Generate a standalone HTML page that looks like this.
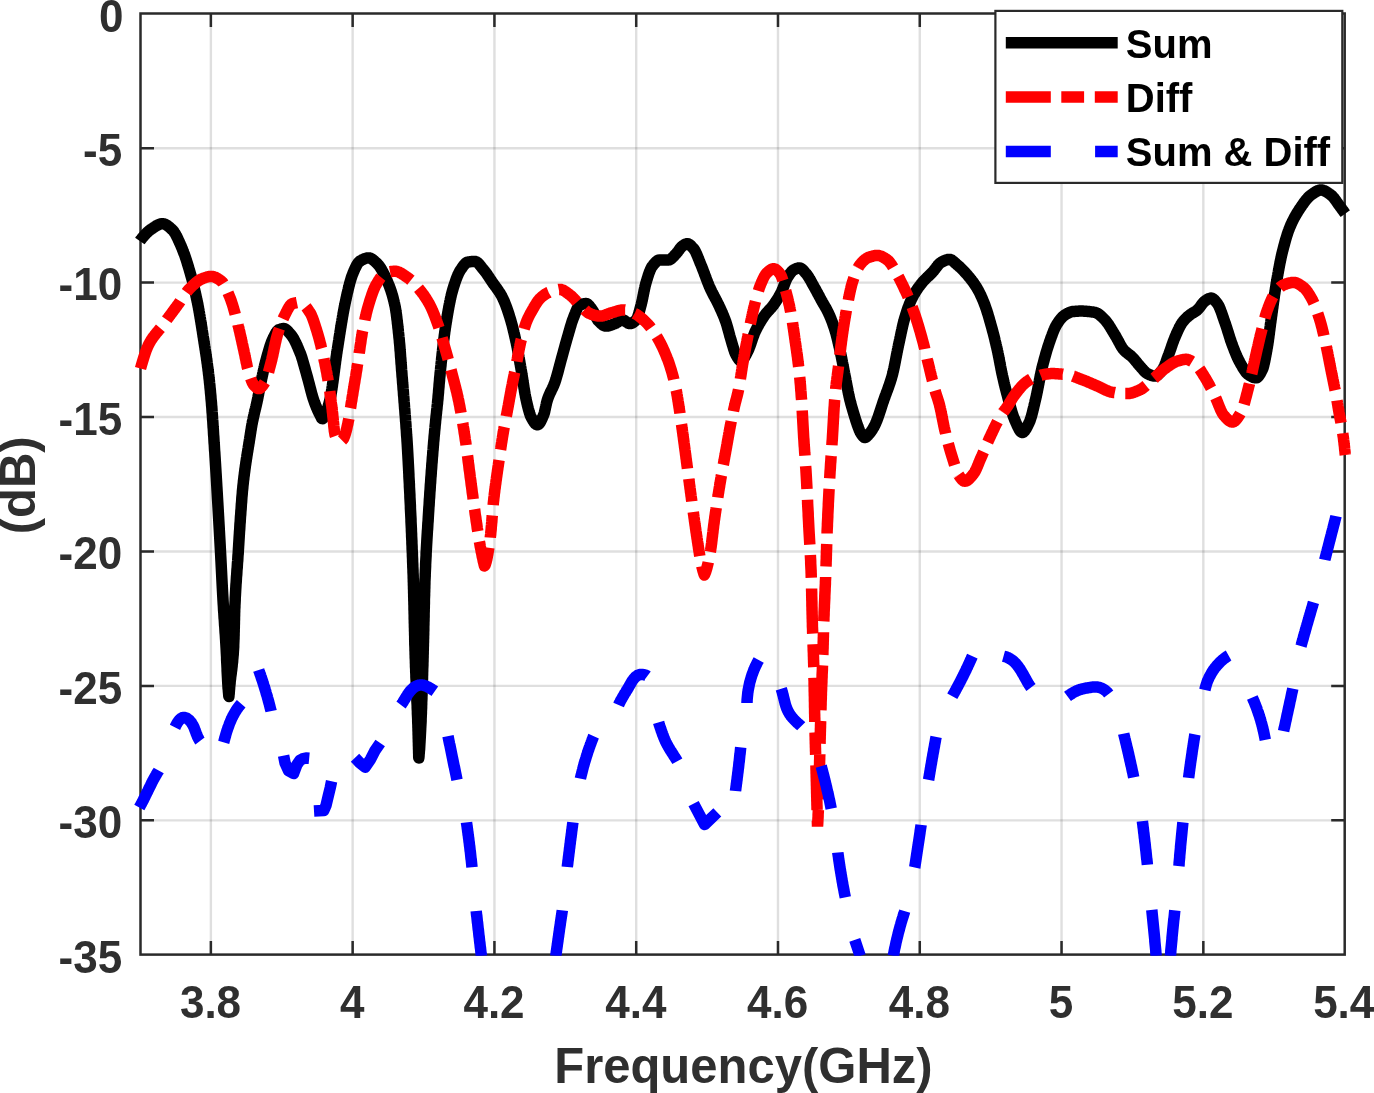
<!DOCTYPE html>
<html lang="en"><head><meta charset="utf-8"><title>Return loss plot</title>
<style>html,body{margin:0;padding:0;background:#fff}body{width:1374px;height:1093px;overflow:hidden}svg{display:block}text{font-family:"Liberation Sans",sans-serif;font-weight:bold}</style></head><body>
<svg width="1374" height="1093" viewBox="0 0 1374 1093">
<rect width="1374" height="1093" fill="#fff"/>
<defs><clipPath id="ax"><rect x="132.5" y="12.2" width="1220.2" height="943.6"/></clipPath><clipPath id="redclip"><rect x="130" y="0" width="1225" height="826.8"/></clipPath></defs>
<path d="M210.87 13.5 V954.6 M352.65 13.5 V954.6 M494.43 13.5 V954.6 M636.21 13.5 V954.6 M777.99 13.5 V954.6 M919.77 13.5 V954.6 M1061.55 13.5 V954.6 M1203.33 13.5 V954.6" stroke="#262626" stroke-opacity="0.15" stroke-width="2.4" fill="none"/>
<path d="M140.5 148.20 H1344.7 M140.5 282.62 H1344.7 M140.5 417.05 H1344.7 M140.5 551.48 H1344.7 M140.5 685.90 H1344.7 M140.5 820.33 H1344.7" stroke="#262626" stroke-opacity="0.15" stroke-width="2.4" fill="none"/>
<rect x="140.50" y="13.50" width="1204.20" height="941.10" fill="none" stroke="#2a2a2a" stroke-width="2.5"/>
<path d="M210.87 954.6 v-13.5 M210.87 13.5 v13.5 M352.65 954.6 v-13.5 M352.65 13.5 v13.5 M494.43 954.6 v-13.5 M494.43 13.5 v13.5 M636.21 954.6 v-13.5 M636.21 13.5 v13.5 M777.99 954.6 v-13.5 M777.99 13.5 v13.5 M919.77 954.6 v-13.5 M919.77 13.5 v13.5 M1061.55 954.6 v-13.5 M1061.55 13.5 v13.5 M1203.33 954.6 v-13.5 M1203.33 13.5 v13.5 M140.5 148.20 h13.5 M1344.7 148.20 h-13.5 M140.5 282.62 h13.5 M1344.7 282.62 h-13.5 M140.5 417.05 h13.5 M1344.7 417.05 h-13.5 M140.5 551.48 h13.5 M1344.7 551.48 h-13.5 M140.5 685.90 h13.5 M1344.7 685.90 h-13.5 M140.5 820.33 h13.5 M1344.7 820.33 h-13.5" stroke="#2a2a2a" stroke-width="2.5" fill="none"/>
<g clip-path="url(#ax)" fill="none" stroke-linejoin="round">
<path d="M139.8 241.0 L140.3 240.3 L140.8 239.7 L141.3 239.1 L141.8 238.4 L142.3 237.8 L142.8 237.2 L143.3 236.6 L143.8 236.1 L144.3 235.5 L144.8 234.9 L145.3 234.4 L145.8 233.9 L146.3 233.3 L146.8 232.8 L147.3 232.4 L147.8 231.9 L148.3 231.4 L148.8 231.0 L149.3 230.6 L149.8 230.2 L150.3 229.8 L150.8 229.5 L151.3 229.1 L151.8 228.8 L152.3 228.5 L152.8 228.1 L153.3 227.8 L153.8 227.4 L154.3 227.1 L154.8 226.8 L155.3 226.4 L155.8 226.1 L156.3 225.8 L156.8 225.5 L157.3 225.3 L157.8 225.0 L158.3 224.8 L158.8 224.5 L159.3 224.3 L159.8 224.2 L160.3 224.0 L160.8 223.9 L161.3 223.8 L161.8 223.7 L162.3 223.7 L162.8 223.7 L163.3 223.8 L163.8 223.9 L164.3 224.0 L164.8 224.2 L165.3 224.4 L165.8 224.6 L166.3 224.9 L166.8 225.2 L167.3 225.5 L167.8 225.9 L168.3 226.3 L168.8 226.7 L169.3 227.1 L169.8 227.5 L170.3 228.0 L170.8 228.4 L171.3 228.9 L171.8 229.4 L172.3 229.8 L172.8 230.3 L173.3 230.9 L173.8 231.5 L174.3 232.3 L174.8 233.0 L175.3 233.8 L175.8 234.7 L176.3 235.7 L176.8 236.6 L177.3 237.6 L177.8 238.7 L178.3 239.8 L178.8 240.9 L179.3 242.0 L179.8 243.1 L180.3 244.2 L180.8 245.4 L181.3 246.5 L181.8 247.7 L182.3 249.0 L182.8 250.2 L183.3 251.6 L183.8 252.9 L184.4 254.3 L184.9 255.8 L185.4 257.3 L185.9 258.8 L186.4 260.3 L186.9 261.9 L187.4 263.5 L187.9 265.2 L188.4 266.8 L188.9 268.5 L189.4 270.2 L189.9 271.9 L190.4 273.6 L190.9 275.4 L191.4 277.2 L191.9 279.0 L192.4 280.9 L192.9 282.8 L193.4 284.8 L193.9 286.8 L194.1 287.8 L194.4 288.8 L194.6 289.8 L194.9 290.9 L195.1 292.0 L195.4 293.0 L195.6 294.1 L195.9 295.2 L196.1 296.4 L196.4 297.5 L196.6 298.7 L196.9 299.8 L197.1 301.0 L197.4 302.2 L197.6 303.5 L197.9 304.7 L198.1 306.0 L198.4 307.3 L198.6 308.7 L198.9 310.0 L199.1 311.4 L199.4 312.9 L199.6 314.3 L199.9 315.8 L200.1 317.3 L200.4 318.8 L200.6 320.3 L200.9 321.8 L201.1 323.4 L201.4 325.0 L201.6 326.5 L201.9 328.1 L202.1 329.7 L202.4 331.3 L202.6 332.9 L202.9 334.6 L203.1 336.2 L203.4 337.8 L203.6 339.4 L203.9 341.0 L204.1 342.6 L204.4 344.2 L204.6 345.8 L204.9 347.4 L205.1 349.0 L205.4 350.6 L205.6 352.3 L205.9 353.9 L206.1 355.6 L206.4 357.3 L206.6 359.0 L206.9 360.8 L207.1 362.6 L207.4 364.4 L207.6 366.3 L207.9 368.2 L208.1 370.1 L208.4 372.1 L208.5 373.5 L208.7 374.9 L208.9 376.3 L209.0 377.8 L209.2 379.3 L209.4 380.8 L209.5 382.4 L209.7 384.0 L209.9 385.6 L210.0 387.3 L210.2 389.0 L210.4 390.8 L210.5 392.6 L210.7 394.4 L210.9 396.3 L211.0 398.2 L211.2 400.2 L211.4 402.2 L211.5 403.7 L211.6 405.3 L211.8 407.0 L211.9 408.7 L212.0 410.4 L212.1 412.1 L212.3 413.9 L212.4 415.7 L212.5 417.5 L212.6 419.4 L212.8 421.2 L212.9 423.1 L213.0 425.0 L213.1 426.9 L213.3 428.9 L213.4 430.8 L213.5 432.8 L213.6 434.7 L213.8 436.7 L213.9 438.7 L214.0 440.7 L214.1 442.7 L214.3 444.6 L214.4 446.6 L214.5 448.6 L214.6 450.5 L214.8 452.5 L214.9 454.5 L215.0 456.1 L215.1 457.7 L215.2 459.3 L215.3 460.9 L215.4 462.6 L215.5 464.2 L215.6 465.8 L215.7 467.5 L215.8 469.1 L215.9 470.8 L216.0 472.5 L216.1 474.2 L216.2 475.8 L216.3 477.5 L216.4 479.2 L216.5 480.9 L216.6 482.6 L216.7 484.3 L216.8 486.0 L216.9 487.7 L217.0 489.4 L217.1 491.2 L217.2 492.9 L217.3 494.6 L217.4 496.3 L217.5 498.1 L217.6 499.8 L217.7 501.5 L217.8 503.2 L217.9 505.0 L218.0 506.7 L218.1 508.5 L218.2 510.2 L218.3 512.0 L218.4 513.7 L218.5 515.5 L218.6 517.2 L218.7 519.0 L218.8 520.8 L218.9 522.6 L219.0 524.4 L219.1 526.1 L219.2 527.9 L219.3 529.7 L219.4 531.5 L219.5 533.3 L219.6 535.2 L219.7 537.0 L219.8 538.8 L219.9 540.6 L220.0 542.4 L220.1 544.3 L220.2 546.1 L220.3 548.0 L220.4 549.8 L220.5 551.7 L220.6 553.6 L220.7 555.5 L220.8 557.4 L220.9 559.4 L221.0 561.3 L221.1 563.3 L221.2 565.3 L221.3 567.3 L221.4 569.3 L221.5 571.3 L221.6 573.3 L221.7 575.3 L221.8 577.3 L221.9 579.2 L222.0 581.2 L222.1 583.2 L222.2 585.1 L222.3 587.1 L222.4 589.0 L222.5 590.9 L222.6 592.7 L222.7 594.6 L222.8 596.4 L222.9 598.1 L223.0 599.9 L223.1 601.6 L223.2 603.3 L223.3 604.9 L223.4 606.5 L223.5 608.5 L223.6 610.4 L223.8 612.3 L223.9 614.2 L224.0 616.0 L224.1 617.9 L224.3 619.7 L224.4 621.5 L224.5 623.3 L224.6 625.1 L224.8 627.0 L224.9 628.8 L225.0 630.6 L225.1 632.5 L225.3 634.4 L225.4 636.3 L225.5 637.9 L225.6 639.5 L225.7 641.1 L225.8 642.8 L225.9 644.5 L226.0 646.2 L226.1 647.9 L226.2 649.8 L226.3 651.7 L226.4 653.8 L226.5 655.5 L226.6 657.3 L226.6 659.2 L226.7 661.1 L226.8 662.9 L226.9 664.8 L227.0 666.7 L227.1 668.6 L227.1 670.5 L227.2 672.3 L227.3 674.1 L227.4 675.8 L227.5 677.8 L227.6 679.8 L227.7 681.6 L227.8 683.3 L227.9 684.8 L228.0 686.6 L228.1 688.3 L228.3 689.9 L228.4 691.4 L228.6 693.3 L228.7 695.0 L228.9 696.5 L229.0 695.0 L229.2 693.5 L229.3 692.0 L229.4 690.5 L229.6 688.5 L229.7 686.6 L229.9 684.8 L230.1 683.0 L230.2 681.4 L230.4 679.8 L230.6 678.4 L230.7 677.0 L230.9 675.6 L231.2 673.7 L231.4 671.7 L231.7 669.8 L231.9 667.8 L232.1 666.3 L232.2 664.8 L232.4 663.3 L232.6 661.6 L232.7 659.8 L232.9 657.8 L233.0 656.3 L233.2 654.6 L233.3 652.9 L233.4 651.0 L233.5 649.7 L233.6 648.4 L233.7 646.9 L233.7 645.0 L233.8 642.8 L233.9 640.2 L234.0 638.6 L234.0 636.9 L234.1 635.1 L234.1 633.3 L234.2 631.4 L234.2 629.5 L234.3 627.5 L234.3 625.6 L234.4 623.6 L234.4 621.7 L234.5 619.6 L234.5 617.5 L234.6 615.5 L234.6 613.6 L234.7 611.8 L234.7 610.1 L234.8 608.5 L234.9 607.0 L234.9 605.7 L235.0 603.9 L235.1 602.1 L235.2 600.3 L235.2 598.6 L235.3 596.9 L235.4 595.3 L235.5 593.4 L235.6 591.6 L235.7 589.8 L235.8 588.1 L235.9 586.4 L236.0 584.3 L236.2 582.3 L236.3 580.4 L236.4 578.5 L236.5 576.7 L236.7 574.8 L236.8 573.1 L236.9 571.3 L237.0 569.5 L237.2 567.8 L237.3 566.1 L237.4 564.4 L237.5 562.6 L237.7 560.9 L237.8 559.1 L237.9 557.3 L238.0 555.4 L238.2 553.6 L238.3 551.7 L238.4 549.7 L238.5 548.1 L238.6 546.5 L238.7 544.9 L238.8 543.2 L238.9 541.6 L239.0 540.0 L239.1 538.3 L239.2 536.7 L239.3 535.1 L239.4 533.5 L239.5 531.5 L239.7 529.5 L239.8 527.5 L239.9 525.6 L240.0 523.7 L240.2 521.8 L240.3 520.0 L240.4 518.2 L240.5 516.4 L240.7 514.6 L240.8 512.8 L240.9 511.0 L241.1 509.2 L241.2 507.4 L241.3 505.6 L241.4 503.9 L241.6 502.2 L241.7 500.5 L241.8 498.9 L241.9 497.2 L242.1 495.2 L242.3 493.2 L242.4 491.3 L242.6 489.5 L242.8 487.8 L242.9 486.2 L243.1 484.6 L243.3 483.1 L243.4 481.6 L243.6 480.1 L243.8 478.7 L243.9 477.3 L244.1 475.9 L244.3 474.6 L244.4 473.3 L244.7 471.3 L244.9 469.5 L245.2 467.6 L245.4 465.9 L245.7 464.1 L245.9 462.4 L246.2 460.7 L246.4 459.1 L246.7 457.5 L246.9 455.9 L247.2 454.3 L247.4 452.8 L247.7 451.2 L247.9 449.7 L248.2 448.1 L248.4 446.6 L248.7 445.1 L248.9 443.5 L249.2 442.0 L249.4 440.4 L249.7 438.8 L249.9 437.2 L250.2 435.6 L250.4 434.0 L250.7 432.4 L250.9 430.8 L251.2 429.2 L251.4 427.7 L251.7 426.2 L251.9 424.8 L252.2 423.4 L252.4 422.0 L252.7 420.8 L253.0 419.5 L253.2 418.3 L253.5 417.2 L253.7 416.0 L254.0 414.9 L254.2 413.8 L254.5 412.7 L254.7 411.7 L255.0 410.6 L255.2 409.6 L255.5 408.5 L255.7 407.5 L256.0 406.4 L256.2 405.4 L256.5 404.3 L256.7 403.2 L257.0 402.1 L257.2 400.9 L257.5 399.7 L257.7 398.5 L258.0 397.2 L258.2 395.9 L258.5 394.6 L258.7 393.3 L259.0 392.0 L259.2 390.7 L259.5 389.4 L259.7 388.2 L260.0 387.0 L260.2 385.8 L260.5 384.6 L260.7 383.4 L261.0 382.2 L261.2 381.0 L261.5 379.8 L261.7 378.6 L262.0 377.5 L262.2 376.3 L262.5 375.1 L262.7 374.0 L263.0 372.8 L263.2 371.7 L263.5 370.6 L263.7 369.5 L264.0 368.4 L264.2 367.3 L264.5 366.2 L264.7 365.2 L265.0 364.2 L265.5 362.2 L266.0 360.3 L266.5 358.4 L267.0 356.6 L267.5 354.7 L268.0 353.0 L268.5 351.2 L269.0 349.5 L269.5 347.9 L270.0 346.3 L270.5 344.8 L271.0 343.4 L271.5 342.0 L272.0 340.8 L272.5 339.7 L273.0 338.6 L273.5 337.6 L274.0 336.5 L274.5 335.5 L275.0 334.5 L275.5 333.6 L276.0 332.7 L276.5 332.0 L277.0 331.3 L277.5 330.7 L278.0 330.3 L278.5 329.9 L279.0 329.7 L279.5 329.5 L280.0 329.3 L280.5 329.2 L281.0 329.0 L281.5 328.9 L282.0 328.8 L282.5 328.7 L283.0 328.6 L283.5 328.6 L284.0 328.6 L284.5 328.7 L285.0 328.9 L285.5 329.2 L286.0 329.5 L286.5 329.9 L287.0 330.3 L287.5 330.8 L288.0 331.3 L288.5 331.9 L289.0 332.5 L289.5 333.0 L290.0 333.6 L290.5 334.2 L291.0 334.8 L291.5 335.4 L292.0 336.1 L292.5 336.8 L293.0 337.6 L293.5 338.4 L294.0 339.3 L294.5 340.2 L295.0 341.2 L295.5 342.2 L296.0 343.3 L296.5 344.3 L297.0 345.5 L297.5 346.6 L298.0 347.8 L298.5 349.0 L299.0 350.2 L299.5 351.4 L300.0 352.7 L300.6 354.0 L301.1 355.4 L301.6 356.9 L302.1 358.5 L302.6 360.1 L303.1 361.8 L303.6 363.6 L304.1 365.3 L304.6 367.1 L305.1 368.9 L305.6 370.7 L306.1 372.5 L306.6 374.3 L307.1 376.1 L307.6 377.9 L308.1 379.7 L308.6 381.6 L309.1 383.5 L309.6 385.4 L310.1 387.4 L310.6 389.3 L311.1 391.2 L311.6 393.1 L312.1 394.9 L312.6 396.6 L313.1 398.2 L313.6 399.7 L314.1 401.2 L314.6 402.6 L315.1 403.9 L315.6 405.2 L316.1 406.5 L316.6 407.7 L317.1 408.9 L317.6 410.1 L318.1 411.2 L318.6 412.2 L319.1 413.3 L319.6 414.2 L320.1 415.2 L320.6 416.2 L321.1 417.2 L321.6 418.1 L322.1 418.6 L322.6 418.7 L323.1 418.3 L323.6 417.7 L324.1 416.9 L324.6 415.9 L325.1 414.8 L325.6 413.8 L326.1 412.7 L326.6 411.4 L327.1 410.0 L327.6 408.4 L328.1 406.7 L328.6 404.9 L329.1 403.0 L329.4 402.0 L329.6 401.0 L329.9 400.0 L330.1 398.9 L330.4 397.7 L330.6 396.4 L330.9 395.1 L331.1 393.7 L331.4 392.2 L331.6 390.6 L331.9 389.0 L332.1 387.4 L332.4 385.7 L332.6 383.9 L332.9 382.1 L333.1 380.3 L333.4 378.5 L333.6 376.6 L333.9 374.7 L334.1 372.8 L334.4 370.9 L334.6 369.0 L334.9 367.1 L335.1 365.2 L335.4 363.3 L335.6 361.4 L335.9 359.6 L336.1 357.8 L336.4 356.0 L336.6 354.3 L336.9 352.6 L337.1 350.9 L337.4 349.3 L337.6 347.7 L337.9 346.1 L338.1 344.5 L338.4 342.9 L338.6 341.3 L338.9 339.7 L339.1 338.0 L339.4 336.4 L339.6 334.8 L339.9 333.2 L340.1 331.6 L340.4 330.1 L340.6 328.5 L340.9 326.9 L341.1 325.4 L341.4 323.8 L341.6 322.3 L341.9 320.8 L342.1 319.3 L342.4 317.8 L342.6 316.4 L342.9 314.9 L343.1 313.5 L343.4 312.1 L343.6 310.8 L343.9 309.5 L344.1 308.2 L344.4 306.9 L344.6 305.7 L344.9 304.4 L345.1 303.2 L345.4 302.1 L345.6 300.9 L345.9 299.7 L346.1 298.5 L346.4 297.3 L346.6 296.2 L346.9 295.0 L347.1 293.9 L347.4 292.7 L347.7 291.6 L347.9 290.5 L348.2 289.4 L348.4 288.4 L348.7 287.3 L348.9 286.3 L349.2 285.3 L349.7 283.3 L350.2 281.5 L350.7 279.8 L351.2 278.1 L351.7 276.6 L352.2 275.3 L352.7 274.0 L353.2 272.8 L353.7 271.5 L354.2 270.4 L354.7 269.2 L355.2 268.1 L355.7 267.1 L356.2 266.1 L356.7 265.1 L357.2 264.3 L357.7 263.5 L358.2 262.8 L358.7 262.2 L359.2 261.7 L359.7 261.3 L360.2 261.0 L360.7 260.7 L361.2 260.4 L361.7 260.1 L362.2 259.8 L362.7 259.5 L363.2 259.3 L363.7 259.1 L364.2 258.9 L364.7 258.7 L365.2 258.5 L365.7 258.3 L366.2 258.2 L366.7 258.1 L367.2 258.0 L367.7 257.9 L368.2 257.9 L368.7 257.9 L369.2 257.9 L369.7 258.0 L370.2 258.2 L370.7 258.4 L371.2 258.6 L371.7 258.9 L372.2 259.2 L372.7 259.6 L373.2 260.0 L373.7 260.4 L374.2 260.8 L374.7 261.2 L375.2 261.7 L375.7 262.2 L376.2 262.7 L376.7 263.1 L377.2 263.6 L377.7 264.1 L378.2 264.7 L378.7 265.3 L379.2 265.9 L379.7 266.6 L380.2 267.3 L380.7 268.1 L381.2 268.9 L381.7 269.8 L382.2 270.7 L382.7 271.6 L383.2 272.5 L383.7 273.5 L384.2 274.5 L384.7 275.6 L385.2 276.6 L385.7 277.7 L386.2 278.8 L386.7 279.9 L387.2 281.0 L387.7 282.2 L388.2 283.4 L388.7 284.6 L389.2 285.8 L389.7 287.1 L390.2 288.5 L390.7 289.9 L391.2 291.4 L391.7 293.0 L392.2 294.6 L392.7 296.4 L393.2 298.3 L393.7 300.3 L394.0 301.3 L394.2 302.4 L394.5 303.5 L394.7 304.7 L395.0 305.9 L395.3 307.2 L395.5 308.6 L395.8 310.2 L396.0 311.8 L396.3 313.6 L396.5 315.4 L396.8 317.4 L396.9 318.7 L397.1 320.0 L397.3 321.4 L397.4 322.9 L397.6 324.3 L397.8 325.8 L397.9 327.3 L398.1 328.8 L398.3 330.3 L398.4 331.9 L398.6 333.5 L398.8 335.1 L398.9 336.7 L399.1 338.3 L399.3 340.0 L399.4 341.8 L399.6 343.7 L399.8 345.7 L399.9 347.2 L400.0 348.7 L400.1 350.3 L400.3 351.9 L400.4 353.5 L400.5 355.2 L400.6 356.8 L400.8 358.5 L400.9 360.2 L401.0 361.8 L401.1 363.5 L401.3 365.2 L401.4 366.9 L401.5 368.5 L401.6 370.2 L401.8 371.8 L401.9 373.4 L402.0 375.0 L402.1 376.6 L402.3 378.1 L402.4 379.7 L402.5 381.2 L402.6 382.8 L402.8 384.4 L402.9 385.9 L403.0 387.5 L403.1 389.1 L403.3 390.7 L403.4 392.2 L403.5 393.8 L403.6 395.4 L403.8 397.0 L403.9 398.6 L404.0 400.2 L404.1 401.9 L404.3 403.5 L404.4 405.1 L404.5 406.6 L404.6 408.2 L404.8 409.8 L404.9 411.4 L405.0 413.0 L405.1 414.6 L405.3 416.2 L405.4 417.8 L405.5 419.4 L405.6 421.1 L405.8 422.8 L405.9 424.4 L406.0 426.2 L406.1 427.9 L406.3 429.7 L406.4 431.5 L406.5 433.3 L406.6 435.2 L406.8 437.1 L406.9 438.7 L407.0 440.3 L407.1 441.9 L407.2 443.5 L407.3 445.2 L407.4 446.9 L407.5 448.6 L407.6 450.4 L407.7 452.1 L407.8 453.9 L407.9 455.7 L408.0 457.6 L408.1 459.4 L408.2 461.3 L408.3 463.2 L408.4 465.1 L408.5 467.0 L408.6 468.9 L408.7 470.9 L408.8 472.9 L408.9 474.5 L408.9 476.2 L409.0 477.8 L409.1 479.5 L409.2 481.2 L409.3 482.9 L409.4 484.6 L409.4 486.3 L409.5 488.0 L409.6 489.8 L409.7 491.5 L409.8 493.3 L409.9 495.0 L409.9 496.8 L410.0 498.6 L410.1 500.4 L410.2 502.3 L410.3 504.1 L410.4 506.0 L410.4 507.9 L410.5 509.7 L410.6 511.6 L410.7 513.5 L410.8 515.5 L410.9 517.4 L411.0 519.4 L411.0 521.3 L411.1 523.3 L411.2 525.3 L411.3 527.3 L411.4 529.0 L411.4 530.7 L411.5 532.5 L411.6 534.2 L411.6 536.0 L411.7 537.7 L411.8 539.5 L411.9 541.3 L411.9 543.1 L412.0 544.9 L412.1 546.7 L412.1 548.5 L412.2 550.3 L412.3 552.1 L412.4 553.9 L412.4 555.7 L412.5 557.5 L412.6 559.4 L412.6 561.2 L412.7 563.1 L412.8 565.0 L412.8 566.7 L412.9 568.4 L413.0 570.2 L413.0 572.0 L413.1 573.8 L413.2 575.7 L413.2 577.6 L413.3 579.6 L413.3 581.3 L413.4 583.0 L413.4 584.7 L413.5 586.5 L413.5 588.4 L413.6 590.3 L413.6 592.3 L413.7 594.3 L413.7 596.4 L413.8 598.5 L413.8 600.2 L413.9 602.0 L413.9 603.8 L414.0 605.6 L414.0 607.5 L414.0 609.3 L414.1 611.2 L414.1 613.0 L414.2 614.9 L414.2 616.8 L414.2 618.6 L414.3 620.5 L414.3 622.5 L414.4 624.5 L414.4 626.6 L414.5 628.5 L414.5 630.5 L414.6 632.5 L414.6 634.4 L414.7 636.3 L414.7 638.2 L414.7 640.0 L414.8 641.9 L414.8 644.0 L414.9 646.1 L415.0 648.2 L415.0 650.1 L415.1 652.0 L415.1 653.8 L415.2 655.6 L415.2 657.3 L415.3 659.0 L415.4 660.9 L415.4 662.7 L415.5 664.5 L415.5 666.3 L415.6 668.0 L415.7 669.7 L415.7 671.4 L415.8 673.0 L415.9 674.9 L415.9 676.7 L416.0 678.5 L416.1 680.3 L416.2 682.0 L416.2 683.7 L416.3 685.5 L416.4 687.4 L416.5 689.4 L416.5 691.4 L416.6 693.4 L416.7 695.3 L416.8 697.3 L416.9 699.0 L416.9 700.7 L417.0 702.5 L417.1 704.2 L417.2 706.0 L417.2 707.8 L417.3 709.6 L417.4 711.5 L417.4 713.4 L417.5 715.3 L417.6 717.3 L417.7 719.3 L417.7 721.3 L417.8 723.4 L417.9 725.1 L417.9 726.8 L418.0 728.5 L418.0 730.3 L418.1 732.1 L418.1 734.0 L418.2 735.9 L418.2 737.8 L418.3 739.7 L418.3 741.5 L418.4 743.3 L418.4 745.1 L418.5 746.9 L418.5 748.7 L418.6 750.6 L418.6 752.4 L418.7 754.3 L418.7 756.1 L418.8 758.0 L419.0 756.4 L419.1 754.5 L419.3 752.5 L419.4 750.8 L419.6 749.0 L419.7 747.1 L419.8 745.2 L419.9 743.5 L420.0 741.8 L420.1 740.0 L420.2 738.2 L420.3 736.4 L420.4 734.5 L420.5 732.5 L420.6 730.6 L420.7 728.5 L420.8 726.5 L420.9 724.7 L421.0 722.9 L421.1 721.0 L421.1 718.9 L421.2 716.9 L421.3 714.7 L421.4 713.0 L421.4 711.3 L421.5 709.6 L421.6 707.8 L421.6 706.0 L421.7 704.2 L421.7 702.3 L421.8 700.4 L421.9 698.7 L421.9 696.9 L422.0 695.2 L422.0 693.4 L422.1 691.6 L422.1 689.8 L422.2 688.0 L422.2 686.1 L422.3 684.3 L422.4 682.4 L422.4 680.5 L422.5 678.6 L422.5 676.7 L422.6 674.8 L422.6 672.9 L422.7 670.9 L422.7 669.0 L422.8 667.1 L422.9 665.1 L422.9 663.2 L423.0 661.2 L423.0 659.3 L423.1 657.3 L423.1 655.3 L423.2 653.4 L423.2 651.4 L423.3 649.4 L423.3 647.6 L423.4 645.8 L423.4 644.0 L423.5 642.1 L423.5 640.2 L423.6 638.3 L423.6 636.3 L423.7 634.4 L423.7 632.3 L423.8 630.3 L423.8 628.3 L423.8 626.4 L423.9 624.5 L423.9 622.6 L424.0 620.7 L424.0 618.8 L424.1 616.9 L424.1 615.0 L424.1 613.1 L424.2 611.2 L424.2 609.4 L424.3 607.5 L424.3 605.7 L424.4 603.5 L424.4 601.4 L424.4 599.3 L424.5 597.2 L424.6 595.2 L424.6 593.3 L424.7 591.4 L424.7 589.5 L424.8 587.7 L424.8 586.0 L424.9 583.7 L424.9 581.6 L425.0 579.6 L425.1 577.7 L425.2 575.9 L425.2 574.1 L425.3 572.3 L425.4 570.3 L425.5 568.3 L425.6 566.3 L425.6 564.4 L425.7 562.6 L425.8 560.8 L425.9 559.0 L426.0 557.2 L426.1 555.5 L426.1 553.8 L426.2 552.2 L426.3 550.6 L426.4 548.7 L426.5 546.8 L426.6 545.0 L426.7 543.2 L426.8 541.5 L426.9 539.7 L427.0 538.0 L427.1 536.4 L427.2 534.7 L427.3 533.1 L427.4 531.0 L427.6 529.0 L427.7 527.1 L427.8 525.1 L427.9 523.1 L428.1 521.2 L428.2 519.2 L428.3 517.2 L428.4 515.6 L428.5 514.0 L428.6 512.4 L428.7 510.8 L428.8 509.2 L428.9 507.2 L429.1 505.2 L429.2 503.2 L429.3 501.3 L429.4 499.3 L429.6 497.4 L429.7 495.5 L429.8 493.6 L429.9 491.8 L430.1 489.9 L430.2 488.1 L430.3 486.2 L430.4 484.4 L430.6 482.6 L430.7 480.8 L430.8 479.0 L430.9 477.3 L431.1 475.5 L431.2 473.8 L431.3 472.1 L431.4 470.4 L431.6 468.7 L431.7 467.0 L431.8 465.3 L431.9 463.7 L432.1 462.0 L432.2 460.4 L432.3 458.8 L432.4 457.2 L432.6 455.6 L432.7 454.0 L432.8 452.5 L432.9 450.9 L433.1 449.4 L433.2 447.9 L433.3 446.4 L433.5 444.4 L433.6 442.5 L433.8 440.6 L434.0 438.7 L434.1 436.8 L434.3 435.0 L434.5 433.2 L434.6 431.4 L434.8 429.6 L435.0 427.9 L435.1 426.1 L435.3 424.4 L435.5 422.6 L435.6 420.9 L435.8 419.3 L436.0 417.6 L436.1 416.1 L436.3 414.5 L436.5 412.9 L436.6 411.4 L436.8 409.8 L437.0 408.2 L437.1 406.6 L437.3 405.0 L437.5 403.4 L437.6 401.7 L437.8 400.0 L438.0 398.2 L438.1 396.3 L438.3 394.4 L438.5 392.5 L438.6 390.5 L438.8 388.5 L439.0 386.5 L439.1 384.5 L439.3 382.5 L439.5 380.6 L439.6 378.7 L439.8 376.9 L440.0 375.1 L440.1 373.5 L440.3 371.8 L440.5 370.1 L440.6 368.5 L440.8 366.8 L441.0 365.2 L441.1 363.6 L441.3 362.0 L441.5 360.4 L441.6 358.8 L441.8 357.2 L442.0 355.6 L442.1 354.1 L442.3 352.5 L442.5 351.0 L442.6 349.5 L442.8 348.1 L443.0 346.6 L443.1 345.1 L443.3 343.7 L443.5 342.3 L443.6 340.9 L443.8 339.6 L444.1 337.6 L444.3 335.6 L444.6 333.7 L444.8 331.9 L445.1 330.1 L445.3 328.3 L445.6 326.7 L445.8 325.0 L446.1 323.4 L446.3 321.8 L446.6 320.3 L446.8 318.7 L447.1 317.2 L447.3 315.7 L447.6 314.2 L447.8 312.7 L448.1 311.3 L448.3 309.9 L448.6 308.5 L448.8 307.1 L449.1 305.8 L449.3 304.5 L449.6 303.2 L449.8 302.0 L450.1 300.8 L450.3 299.6 L450.6 298.5 L450.8 297.3 L451.1 296.2 L451.3 295.2 L451.8 293.2 L452.3 291.4 L452.8 289.6 L453.3 287.9 L453.8 286.3 L454.3 284.7 L454.8 283.2 L455.3 281.7 L455.8 280.2 L456.3 278.9 L456.8 277.6 L457.3 276.3 L457.8 275.2 L458.3 274.0 L458.8 273.0 L459.3 272.0 L459.8 271.1 L460.3 270.3 L460.8 269.5 L461.3 268.8 L461.8 268.1 L462.3 267.3 L462.8 266.6 L463.3 265.9 L463.8 265.3 L464.3 264.7 L464.8 264.1 L465.3 263.6 L465.8 263.1 L466.3 262.7 L466.8 262.4 L467.3 262.2 L467.8 262.0 L468.3 262.0 L468.8 261.9 L469.3 261.8 L469.8 261.8 L470.3 261.7 L470.8 261.7 L471.3 261.6 L471.8 261.6 L472.3 261.6 L472.8 261.6 L473.3 261.5 L473.8 261.5 L474.3 261.5 L474.8 261.5 L475.3 261.5 L475.8 261.6 L476.3 261.8 L476.8 262.1 L477.3 262.4 L477.8 262.8 L478.3 263.3 L478.8 263.8 L479.3 264.4 L479.8 265.0 L480.3 265.6 L480.8 266.2 L481.3 266.9 L481.8 267.5 L482.3 268.2 L482.8 268.8 L483.3 269.4 L483.8 270.0 L484.3 270.6 L484.8 271.2 L485.3 271.9 L485.8 272.5 L486.3 273.2 L486.8 273.9 L487.3 274.6 L487.8 275.4 L488.3 276.1 L488.8 276.8 L489.3 277.6 L489.8 278.4 L490.3 279.1 L490.8 279.9 L491.3 280.6 L491.8 281.4 L492.3 282.1 L492.8 282.8 L493.3 283.6 L493.8 284.3 L494.3 284.9 L494.8 285.6 L495.3 286.3 L495.8 287.0 L496.3 287.7 L496.8 288.4 L497.3 289.1 L497.8 289.8 L498.3 290.5 L498.8 291.3 L499.3 292.0 L499.8 292.8 L500.3 293.6 L500.8 294.5 L501.3 295.3 L501.8 296.3 L502.3 297.2 L502.8 298.2 L503.3 299.3 L503.8 300.4 L504.3 301.5 L504.8 302.7 L505.3 304.0 L505.8 305.3 L506.3 306.6 L506.8 308.0 L507.3 309.4 L507.8 310.9 L508.3 312.4 L508.8 313.9 L509.3 315.5 L509.8 317.1 L510.3 318.7 L510.8 320.4 L511.3 322.2 L511.8 324.0 L512.3 325.8 L512.8 327.8 L513.3 329.8 L513.5 330.8 L513.8 331.8 L514.0 332.9 L514.3 333.9 L514.5 335.0 L514.8 336.1 L515.0 337.2 L515.3 338.3 L515.5 339.4 L515.8 340.6 L516.0 341.7 L516.3 342.9 L516.5 344.1 L516.8 345.3 L517.0 346.5 L517.3 347.8 L517.5 349.1 L517.8 350.5 L518.0 351.8 L518.3 353.2 L518.5 354.6 L518.8 356.0 L519.0 357.4 L519.3 358.8 L519.5 360.3 L519.8 361.7 L520.0 363.2 L520.3 364.6 L520.5 366.1 L520.8 367.5 L521.0 368.9 L521.3 370.4 L521.5 371.9 L521.8 373.4 L522.0 374.9 L522.3 376.5 L522.5 378.1 L522.8 379.7 L523.0 381.4 L523.3 383.0 L523.5 384.6 L523.8 386.3 L524.0 387.9 L524.3 389.4 L524.5 391.0 L524.8 392.5 L525.0 393.9 L525.3 395.3 L525.5 396.7 L525.8 397.9 L526.0 399.1 L526.3 400.2 L526.5 401.3 L526.8 402.4 L527.0 403.5 L527.3 404.6 L527.5 405.6 L527.8 406.7 L528.3 408.7 L528.8 410.5 L529.3 412.3 L529.8 413.9 L530.3 415.3 L530.8 416.5 L531.3 417.5 L531.8 418.4 L532.3 419.3 L532.8 420.2 L533.3 421.0 L533.8 421.8 L534.3 422.5 L534.8 423.1 L535.3 423.7 L535.8 424.1 L536.3 424.5 L536.8 424.7 L537.3 424.8 L537.8 424.7 L538.3 424.5 L538.8 424.1 L539.3 423.6 L539.8 422.9 L540.3 422.1 L540.8 421.2 L541.3 420.2 L541.8 419.2 L542.3 418.1 L542.8 416.9 L543.3 415.7 L543.8 414.6 L544.3 413.0 L544.8 411.0 L545.0 409.9 L545.3 408.8 L545.5 407.6 L545.8 406.4 L546.0 405.3 L546.3 404.1 L546.5 403.0 L546.8 401.9 L547.3 400.1 L547.8 398.6 L548.3 397.2 L548.8 396.0 L549.3 394.8 L549.8 393.7 L550.3 392.6 L550.8 391.6 L551.3 390.5 L551.8 389.5 L552.3 388.5 L552.8 387.4 L553.3 386.3 L553.8 385.2 L554.3 383.9 L554.8 382.6 L555.3 381.1 L555.8 379.6 L556.3 377.9 L556.8 376.2 L557.3 374.4 L557.8 372.6 L558.3 370.7 L558.8 368.8 L559.3 366.9 L559.8 365.0 L560.3 363.1 L560.8 361.3 L561.3 359.4 L561.8 357.6 L562.3 355.8 L562.8 354.0 L563.3 352.1 L563.8 350.3 L564.3 348.5 L564.8 346.6 L565.3 344.8 L565.8 343.0 L566.3 341.2 L566.8 339.5 L567.3 337.7 L567.8 336.0 L568.3 334.3 L568.8 332.5 L569.3 330.8 L569.8 329.1 L570.3 327.3 L570.8 325.7 L571.3 324.0 L571.8 322.4 L572.3 320.9 L572.8 319.5 L573.3 318.2 L573.8 316.9 L574.3 315.6 L574.8 314.3 L575.3 313.1 L575.8 311.8 L576.3 310.6 L576.8 309.4 L577.3 308.3 L577.8 307.3 L578.3 306.5 L578.8 305.8 L579.3 305.3 L579.8 304.9 L580.3 304.8 L580.8 304.6 L581.3 304.4 L581.8 304.3 L582.3 304.1 L582.8 304.0 L583.3 303.9 L583.8 303.8 L584.3 303.7 L584.8 303.7 L585.3 303.6 L585.8 303.6 L586.3 303.6 L586.8 303.7 L587.3 304.0 L587.8 304.3 L588.3 304.7 L588.8 305.2 L589.3 305.8 L589.8 306.4 L590.3 307.1 L590.8 307.7 L591.3 308.4 L591.8 309.1 L592.3 309.8 L592.8 310.5 L593.3 311.3 L593.8 312.2 L594.3 313.2 L594.8 314.2 L595.3 315.3 L595.8 316.4 L596.3 317.4 L596.8 318.4 L597.3 319.3 L597.8 320.1 L598.3 320.8 L598.8 321.3 L599.3 321.8 L599.8 322.3 L600.3 322.8 L600.8 323.2 L601.3 323.7 L601.8 324.1 L602.3 324.5 L602.8 324.9 L603.3 325.2 L603.8 325.5 L604.3 325.7 L604.8 325.9 L605.3 326.0 L605.8 326.1 L606.3 326.1 L606.8 326.1 L607.3 326.0 L607.8 326.0 L608.3 325.9 L608.8 325.7 L609.3 325.6 L609.8 325.5 L610.3 325.3 L610.8 325.1 L611.3 325.0 L611.8 324.8 L612.3 324.6 L612.8 324.4 L613.3 324.2 L613.8 324.0 L614.3 323.8 L614.8 323.6 L615.3 323.4 L615.8 323.2 L616.3 322.9 L616.8 322.6 L617.3 322.3 L617.8 322.0 L618.3 321.6 L618.8 321.3 L619.3 321.0 L619.8 320.7 L620.3 320.5 L620.8 320.2 L621.3 320.1 L621.8 320.0 L622.3 319.9 L622.8 319.9 L623.3 320.0 L623.8 320.2 L624.3 320.5 L624.8 320.8 L625.3 321.1 L625.8 321.5 L626.3 321.9 L626.8 322.2 L627.3 322.6 L627.8 322.9 L628.3 323.2 L628.8 323.4 L629.3 323.5 L629.8 323.6 L630.3 323.6 L630.8 323.5 L631.3 323.4 L631.8 323.2 L632.3 322.9 L632.8 322.7 L633.3 322.3 L633.8 322.0 L634.3 321.6 L634.8 321.1 L635.3 320.7 L635.8 320.2 L636.3 319.7 L636.8 318.9 L637.3 317.8 L637.8 316.5 L638.3 315.0 L638.8 313.3 L639.3 311.6 L639.8 309.7 L640.3 307.9 L640.8 306.0 L641.3 304.2 L641.5 303.2 L641.8 302.1 L642.0 301.0 L642.3 299.9 L642.5 298.7 L642.8 297.5 L643.0 296.2 L643.3 295.0 L643.5 293.7 L643.8 292.5 L644.0 291.2 L644.3 290.0 L644.5 288.8 L644.8 287.6 L645.0 286.5 L645.3 285.4 L645.8 283.5 L646.3 281.7 L646.8 280.1 L647.3 278.5 L647.8 276.9 L648.3 275.3 L648.8 273.8 L649.3 272.4 L649.8 271.1 L650.3 269.9 L650.8 268.8 L651.3 267.8 L651.8 266.9 L652.3 266.2 L652.8 265.6 L653.3 264.9 L653.8 264.3 L654.3 263.7 L654.8 263.1 L655.3 262.6 L655.8 262.1 L656.3 261.6 L656.8 261.2 L657.3 260.8 L657.8 260.5 L658.3 260.2 L658.8 260.1 L659.3 259.9 L659.8 259.9 L660.3 259.9 L660.8 259.9 L661.3 259.9 L661.8 259.9 L662.3 259.9 L662.8 259.9 L663.3 259.9 L663.8 259.9 L664.3 259.9 L664.8 259.9 L665.3 259.9 L665.8 259.9 L666.3 259.9 L666.8 259.9 L667.3 259.9 L667.8 259.9 L668.3 259.9 L668.8 259.9 L669.3 259.8 L669.8 259.6 L670.3 259.4 L670.8 259.1 L671.3 258.7 L671.8 258.3 L672.3 257.8 L672.8 257.3 L673.3 256.7 L673.8 256.2 L674.3 255.6 L674.8 255.1 L675.3 254.5 L675.8 254.0 L676.3 253.5 L676.8 252.9 L677.3 252.3 L677.8 251.7 L678.3 251.0 L678.8 250.3 L679.3 249.6 L679.8 248.9 L680.3 248.2 L680.8 247.6 L681.3 247.1 L681.8 246.6 L682.3 246.2 L682.8 245.8 L683.3 245.5 L683.8 245.1 L684.3 244.8 L684.8 244.5 L685.3 244.2 L685.8 244.0 L686.3 243.8 L686.8 243.7 L687.3 243.7 L687.8 243.7 L688.3 243.9 L688.8 244.1 L689.3 244.4 L689.8 244.7 L690.3 245.2 L690.8 245.6 L691.3 246.1 L691.8 246.7 L692.3 247.2 L692.8 247.8 L693.3 248.4 L693.8 248.9 L694.3 249.6 L694.8 250.4 L695.3 251.3 L695.8 252.3 L696.3 253.4 L696.8 254.5 L697.3 255.7 L697.8 256.9 L698.3 258.2 L698.8 259.4 L699.3 260.7 L699.8 262.0 L700.3 263.2 L700.8 264.4 L701.3 265.6 L701.8 266.8 L702.3 268.1 L702.8 269.4 L703.3 270.7 L703.8 272.0 L704.3 273.3 L704.8 274.7 L705.3 276.0 L705.8 277.3 L706.3 278.7 L706.8 280.0 L707.3 281.3 L707.8 282.6 L708.3 283.8 L708.8 285.1 L709.3 286.3 L709.8 287.4 L710.3 288.5 L710.8 289.6 L711.3 290.6 L711.8 291.7 L712.3 292.7 L712.8 293.6 L713.3 294.6 L713.8 295.6 L714.3 296.5 L714.8 297.5 L715.3 298.4 L715.8 299.3 L716.3 300.3 L716.8 301.3 L717.3 302.2 L717.8 303.2 L718.3 304.2 L718.8 305.3 L719.3 306.3 L719.8 307.4 L720.3 308.5 L720.8 309.6 L721.3 310.7 L721.8 311.8 L722.3 313.0 L722.8 314.1 L723.3 315.3 L723.8 316.5 L724.3 317.8 L724.8 319.1 L725.3 320.4 L725.8 321.8 L726.3 323.3 L726.8 324.9 L727.3 326.6 L727.8 328.4 L728.3 330.2 L728.8 332.0 L729.3 333.9 L729.8 335.8 L730.3 337.5 L730.8 339.2 L731.3 340.9 L731.8 342.6 L732.3 344.3 L732.8 346.0 L733.3 347.7 L733.8 349.3 L734.3 350.8 L734.8 352.2 L735.3 353.5 L735.8 354.5 L736.3 355.4 L736.8 356.3 L737.3 357.2 L737.8 358.0 L738.3 358.7 L738.8 359.4 L739.3 360.0 L739.8 360.5 L740.3 360.8 L740.8 361.0 L741.3 361.0 L741.8 360.8 L742.3 360.4 L742.8 359.9 L743.3 359.3 L743.8 358.6 L744.3 357.8 L744.8 356.9 L745.3 356.0 L745.8 355.1 L746.3 354.1 L746.8 353.2 L747.3 352.3 L747.8 351.3 L748.3 350.3 L748.8 349.1 L749.3 347.8 L749.8 346.5 L750.3 345.1 L750.8 343.7 L751.3 342.2 L751.8 340.8 L752.3 339.3 L752.8 337.9 L753.3 336.4 L753.8 335.1 L754.3 333.8 L754.8 332.5 L755.3 331.4 L755.8 330.4 L756.3 329.4 L756.8 328.4 L757.3 327.4 L757.8 326.5 L758.3 325.6 L758.8 324.7 L759.3 323.8 L759.8 322.9 L760.3 322.1 L760.8 321.2 L761.3 320.4 L761.8 319.6 L762.3 318.8 L762.8 318.1 L763.3 317.3 L763.8 316.6 L764.3 315.9 L764.8 315.2 L765.3 314.5 L765.8 313.8 L766.3 313.2 L766.8 312.6 L767.3 312.1 L767.8 311.5 L768.3 311.0 L768.8 310.4 L769.3 309.9 L769.8 309.4 L770.3 308.8 L770.8 308.3 L771.3 307.7 L771.8 307.1 L772.3 306.5 L772.8 305.9 L773.3 305.3 L773.8 304.6 L774.3 303.9 L774.8 303.2 L775.3 302.4 L775.8 301.7 L776.3 300.9 L776.8 300.1 L777.3 299.3 L777.8 298.5 L778.3 297.7 L778.8 296.8 L779.3 295.9 L779.8 295.0 L780.3 294.1 L780.8 293.2 L781.3 292.2 L781.8 291.1 L782.3 290.0 L782.8 288.7 L783.3 287.4 L783.8 286.1 L784.3 284.8 L784.8 283.4 L785.3 282.1 L785.8 280.9 L786.3 279.7 L786.8 278.7 L787.3 277.7 L787.8 276.9 L788.3 276.1 L788.8 275.4 L789.3 274.6 L789.8 273.9 L790.3 273.2 L790.8 272.6 L791.3 272.0 L791.8 271.4 L792.3 270.9 L792.8 270.5 L793.3 270.1 L793.8 269.8 L794.3 269.6 L794.8 269.3 L795.3 269.1 L795.8 268.8 L796.3 268.6 L796.8 268.4 L797.3 268.3 L797.8 268.1 L798.3 268.0 L798.8 267.9 L799.3 267.9 L799.8 267.9 L800.3 268.1 L800.8 268.3 L801.3 268.6 L801.8 268.9 L802.3 269.4 L802.8 269.8 L803.3 270.4 L803.8 270.9 L804.3 271.5 L804.8 272.1 L805.3 272.7 L805.8 273.2 L806.3 273.8 L806.8 274.4 L807.3 275.1 L807.8 275.8 L808.3 276.6 L808.8 277.4 L809.3 278.2 L809.8 279.1 L810.3 279.9 L810.8 280.8 L811.3 281.8 L811.8 282.7 L812.3 283.6 L812.8 284.5 L813.3 285.4 L813.8 286.3 L814.3 287.2 L814.8 288.0 L815.3 288.9 L815.8 289.9 L816.3 290.8 L816.8 291.7 L817.3 292.6 L817.8 293.6 L818.3 294.5 L818.8 295.4 L819.3 296.4 L819.8 297.3 L820.3 298.2 L820.8 299.2 L821.3 300.1 L821.8 301.0 L822.3 301.9 L822.8 302.7 L823.3 303.6 L823.8 304.5 L824.3 305.3 L824.8 306.2 L825.3 307.0 L825.8 307.9 L826.3 308.8 L826.8 309.8 L827.3 310.7 L827.8 311.7 L828.3 312.7 L828.8 313.8 L829.3 314.9 L829.8 316.1 L830.3 317.2 L830.8 318.4 L831.3 319.7 L831.8 321.0 L832.3 322.3 L832.8 323.6 L833.3 325.1 L833.8 326.5 L834.3 328.0 L834.8 329.6 L835.3 331.2 L835.8 332.9 L836.3 334.8 L836.8 336.7 L837.3 338.7 L837.5 339.7 L837.8 340.7 L838.0 341.8 L838.3 342.8 L838.5 343.9 L838.8 345.0 L839.0 346.1 L839.3 347.2 L839.5 348.3 L839.8 349.4 L840.0 350.5 L840.3 351.6 L840.5 352.8 L840.8 354.0 L841.0 355.2 L841.3 356.4 L841.5 357.6 L841.8 358.9 L842.0 360.2 L842.3 361.4 L842.5 362.7 L842.8 364.0 L843.0 365.3 L843.3 366.6 L843.5 367.9 L843.8 369.2 L844.0 370.5 L844.3 371.8 L844.5 373.0 L844.8 374.3 L845.0 375.6 L845.3 376.8 L845.5 378.1 L845.8 379.4 L846.0 380.7 L846.3 382.0 L846.5 383.4 L846.8 384.7 L847.0 386.0 L847.3 387.3 L847.5 388.6 L847.8 389.9 L848.0 391.2 L848.3 392.5 L848.5 393.7 L848.8 394.9 L849.0 396.1 L849.3 397.2 L849.5 398.3 L849.8 399.4 L850.0 400.4 L850.3 401.4 L850.8 403.4 L851.3 405.2 L851.8 407.0 L852.3 408.7 L852.8 410.4 L853.3 412.1 L853.8 413.7 L854.3 415.4 L854.8 417.0 L855.3 418.6 L855.8 420.2 L856.3 421.8 L856.8 423.3 L857.3 424.7 L857.8 426.1 L858.3 427.4 L858.8 428.8 L859.3 430.1 L859.8 431.2 L860.3 432.3 L860.8 433.2 L861.3 433.9 L861.8 434.7 L862.3 435.4 L862.8 436.0 L863.3 436.6 L863.8 437.0 L864.3 437.4 L864.8 437.5 L865.3 437.4 L865.8 437.3 L866.3 436.9 L866.8 436.5 L867.3 436.0 L867.8 435.5 L868.3 434.9 L868.8 434.3 L869.3 433.7 L869.8 433.2 L870.3 432.5 L870.8 431.9 L871.3 431.2 L871.8 430.5 L872.3 429.7 L872.8 428.8 L873.3 428.0 L873.8 427.1 L874.3 426.2 L874.8 425.2 L875.3 424.2 L875.8 423.1 L876.3 421.9 L876.8 420.7 L877.3 419.4 L877.8 418.0 L878.3 416.6 L878.8 415.1 L879.3 413.6 L879.8 412.1 L880.3 410.6 L880.8 409.1 L881.3 407.5 L881.8 406.0 L882.3 404.5 L882.8 402.9 L883.3 401.5 L883.8 400.0 L884.3 398.6 L884.8 397.2 L885.3 395.8 L885.8 394.5 L886.3 393.1 L886.8 391.8 L887.3 390.5 L887.8 389.1 L888.3 387.7 L888.8 386.3 L889.3 384.9 L889.8 383.4 L890.3 381.9 L890.8 380.3 L891.3 378.7 L891.8 377.0 L892.3 375.2 L892.8 373.3 L893.0 372.2 L893.3 371.2 L893.5 370.1 L893.8 368.9 L894.0 367.8 L894.3 366.6 L894.5 365.3 L894.8 364.1 L895.0 362.8 L895.3 361.6 L895.5 360.3 L895.8 359.0 L896.0 357.7 L896.3 356.4 L896.5 355.1 L896.8 353.8 L897.0 352.5 L897.3 351.2 L897.5 350.0 L897.8 348.7 L898.0 347.5 L898.3 346.3 L898.5 345.1 L898.8 344.0 L899.0 342.8 L899.3 341.7 L899.5 340.5 L899.8 339.3 L900.0 338.1 L900.3 336.9 L900.5 335.8 L900.8 334.6 L901.0 333.4 L901.3 332.2 L901.5 331.1 L901.8 329.9 L902.0 328.8 L902.3 327.7 L902.5 326.6 L902.8 325.5 L903.0 324.4 L903.3 323.4 L903.5 322.4 L903.8 321.4 L904.3 319.5 L904.8 317.7 L905.3 316.1 L905.8 314.5 L906.3 312.9 L906.8 311.4 L907.3 309.9 L907.8 308.4 L908.3 307.0 L908.8 305.7 L909.3 304.4 L909.8 303.1 L910.3 301.9 L910.8 300.8 L911.3 299.7 L911.8 298.6 L912.3 297.6 L912.8 296.6 L913.3 295.7 L913.8 294.8 L914.3 293.9 L914.8 293.1 L915.3 292.2 L915.8 291.4 L916.3 290.6 L916.8 289.9 L917.3 289.1 L917.8 288.4 L918.3 287.7 L918.8 287.0 L919.3 286.3 L919.8 285.7 L920.3 285.0 L920.8 284.4 L921.3 283.7 L921.8 283.1 L922.3 282.5 L922.8 281.9 L923.3 281.3 L923.8 280.8 L924.3 280.3 L924.8 279.7 L925.3 279.2 L925.8 278.7 L926.3 278.2 L926.8 277.8 L927.3 277.3 L927.8 276.8 L928.3 276.3 L928.8 275.9 L929.3 275.4 L929.8 274.9 L930.3 274.4 L930.8 273.9 L931.3 273.4 L931.8 272.9 L932.3 272.4 L932.8 271.8 L933.3 271.3 L933.8 270.6 L934.3 270.0 L934.8 269.3 L935.3 268.7 L935.8 268.0 L936.3 267.4 L936.8 266.7 L937.3 266.1 L937.8 265.4 L938.3 264.9 L938.8 264.3 L939.3 263.8 L939.8 263.3 L940.3 262.9 L940.8 262.6 L941.3 262.3 L941.8 262.0 L942.3 261.7 L942.8 261.5 L943.3 261.2 L943.8 261.0 L944.3 260.7 L944.8 260.5 L945.3 260.3 L945.8 260.1 L946.3 259.9 L946.8 259.8 L947.3 259.6 L947.8 259.5 L948.3 259.5 L948.8 259.4 L949.3 259.4 L949.8 259.4 L950.3 259.5 L950.8 259.7 L951.3 260.0 L951.8 260.2 L952.3 260.6 L952.8 260.9 L953.3 261.3 L953.8 261.8 L954.3 262.2 L954.8 262.7 L955.3 263.1 L955.8 263.6 L956.3 264.0 L956.8 264.5 L957.3 264.9 L957.8 265.3 L958.3 265.7 L958.8 266.2 L959.3 266.6 L959.8 267.1 L960.3 267.5 L960.8 268.0 L961.3 268.5 L961.8 269.0 L962.3 269.5 L962.8 270.0 L963.3 270.5 L963.8 271.0 L964.3 271.6 L964.8 272.1 L965.3 272.6 L965.8 273.2 L966.3 273.8 L966.8 274.3 L967.3 274.9 L967.8 275.5 L968.3 276.1 L968.8 276.7 L969.3 277.3 L969.8 277.9 L970.3 278.5 L970.8 279.1 L971.3 279.8 L971.8 280.4 L972.3 281.1 L972.8 281.7 L973.3 282.4 L973.8 283.1 L974.3 283.9 L974.8 284.6 L975.3 285.4 L975.8 286.1 L976.3 286.9 L976.8 287.8 L977.3 288.6 L977.8 289.5 L978.3 290.4 L978.8 291.3 L979.3 292.3 L979.8 293.3 L980.3 294.3 L980.8 295.4 L981.3 296.4 L981.8 297.6 L982.3 298.7 L982.8 299.9 L983.3 301.1 L983.8 302.3 L984.3 303.6 L984.8 304.9 L985.3 306.2 L985.8 307.7 L986.3 309.1 L986.8 310.6 L987.3 312.2 L987.8 313.8 L988.3 315.5 L988.8 317.2 L989.3 318.9 L989.8 320.7 L990.3 322.4 L990.8 324.2 L991.3 326.0 L991.8 327.8 L992.3 329.6 L992.8 331.5 L993.3 333.4 L993.8 335.3 L994.3 337.2 L994.8 339.2 L995.0 340.3 L995.3 341.3 L995.5 342.3 L995.8 343.3 L996.0 344.4 L996.3 345.5 L996.5 346.5 L996.8 347.6 L997.0 348.7 L997.3 349.8 L997.5 350.9 L997.8 352.1 L998.0 353.3 L998.3 354.5 L998.5 355.8 L998.8 357.0 L999.0 358.3 L999.3 359.6 L999.5 361.0 L999.8 362.3 L1000.0 363.6 L1000.3 364.9 L1000.5 366.2 L1000.8 367.5 L1001.0 368.8 L1001.3 370.0 L1001.5 371.3 L1001.8 372.5 L1002.0 373.7 L1002.3 374.8 L1002.5 375.9 L1002.8 377.0 L1003.0 378.1 L1003.3 379.2 L1003.5 380.3 L1003.8 381.4 L1004.0 382.4 L1004.3 383.5 L1004.5 384.5 L1004.8 385.6 L1005.0 386.6 L1005.3 387.6 L1005.5 388.6 L1005.8 389.6 L1006.3 391.6 L1006.8 393.5 L1007.3 395.4 L1007.8 397.3 L1008.3 399.1 L1008.8 400.9 L1009.3 402.7 L1009.8 404.5 L1010.3 406.3 L1010.8 408.0 L1011.3 409.8 L1011.8 411.5 L1012.3 413.1 L1012.8 414.7 L1013.3 416.2 L1013.8 417.5 L1014.3 418.8 L1014.8 420.0 L1015.3 421.1 L1015.8 422.3 L1016.3 423.4 L1016.8 424.6 L1017.3 425.7 L1017.8 426.8 L1018.3 427.8 L1018.8 428.8 L1019.3 429.7 L1019.8 430.5 L1020.3 431.2 L1020.8 431.7 L1021.3 432.1 L1021.8 432.4 L1022.3 432.5 L1022.8 432.4 L1023.3 432.2 L1023.8 431.8 L1024.3 431.3 L1024.8 430.7 L1025.3 430.0 L1025.8 429.2 L1026.3 428.4 L1026.8 427.4 L1027.3 426.5 L1027.8 425.4 L1028.3 424.4 L1028.8 423.4 L1029.3 422.3 L1029.8 421.2 L1030.3 419.8 L1030.8 418.3 L1031.3 416.7 L1031.8 414.9 L1032.3 413.0 L1032.8 411.0 L1033.0 410.0 L1033.3 409.0 L1033.5 408.0 L1033.8 406.9 L1034.0 405.9 L1034.3 404.8 L1034.5 403.8 L1034.8 402.7 L1035.0 401.7 L1035.3 400.6 L1035.5 399.6 L1035.8 398.5 L1036.0 397.4 L1036.3 396.3 L1036.5 395.1 L1036.8 394.0 L1037.0 392.7 L1037.3 391.5 L1037.5 390.3 L1037.8 389.0 L1038.0 387.7 L1038.3 386.4 L1038.5 385.1 L1038.8 383.8 L1039.0 382.5 L1039.3 381.2 L1039.5 379.9 L1039.8 378.7 L1040.0 377.4 L1040.3 376.1 L1040.5 374.9 L1040.8 373.7 L1041.0 372.5 L1041.3 371.3 L1041.5 370.2 L1041.8 369.1 L1042.0 368.0 L1042.3 367.0 L1042.8 365.0 L1043.3 363.1 L1043.8 361.2 L1044.3 359.3 L1044.8 357.5 L1045.3 355.7 L1045.8 353.9 L1046.3 352.2 L1046.8 350.5 L1047.3 348.9 L1047.8 347.3 L1048.3 345.7 L1048.8 344.2 L1049.3 342.7 L1049.8 341.3 L1050.3 339.9 L1050.8 338.4 L1051.3 337.0 L1051.8 335.7 L1052.3 334.3 L1052.8 333.0 L1053.3 331.7 L1053.8 330.4 L1054.3 329.3 L1054.8 328.1 L1055.3 327.1 L1055.8 326.1 L1056.3 325.2 L1056.8 324.4 L1057.3 323.6 L1057.8 322.9 L1058.3 322.1 L1058.8 321.4 L1059.3 320.7 L1059.8 320.0 L1060.3 319.4 L1060.8 318.8 L1061.3 318.2 L1061.8 317.6 L1062.3 317.1 L1062.8 316.6 L1063.3 316.2 L1063.8 315.8 L1064.3 315.4 L1064.8 315.0 L1065.3 314.7 L1065.8 314.4 L1066.3 314.1 L1066.8 313.8 L1067.3 313.5 L1067.8 313.3 L1068.3 313.0 L1068.8 312.8 L1069.3 312.5 L1069.8 312.3 L1070.3 312.1 L1070.8 312.0 L1071.3 311.8 L1071.8 311.7 L1072.3 311.6 L1072.8 311.5 L1073.3 311.5 L1073.8 311.4 L1074.3 311.4 L1074.8 311.4 L1075.3 311.3 L1075.8 311.3 L1076.3 311.3 L1076.8 311.2 L1077.3 311.2 L1077.8 311.2 L1078.3 311.2 L1078.8 311.1 L1079.3 311.1 L1079.8 311.1 L1080.3 311.1 L1080.8 311.1 L1081.3 311.1 L1081.8 311.1 L1082.3 311.1 L1082.8 311.1 L1083.3 311.1 L1083.8 311.2 L1084.3 311.2 L1084.8 311.2 L1085.3 311.2 L1085.8 311.3 L1086.3 311.3 L1086.8 311.3 L1087.3 311.4 L1087.8 311.4 L1088.3 311.5 L1088.8 311.5 L1089.3 311.6 L1089.8 311.6 L1090.3 311.7 L1090.8 311.8 L1091.3 311.8 L1091.8 311.9 L1092.3 312.0 L1092.8 312.0 L1093.3 312.1 L1093.8 312.2 L1094.3 312.3 L1094.8 312.4 L1095.3 312.5 L1095.8 312.6 L1096.3 312.8 L1096.8 313.0 L1097.3 313.3 L1097.8 313.5 L1098.3 313.9 L1098.8 314.2 L1099.3 314.6 L1099.8 315.0 L1100.3 315.4 L1100.8 315.9 L1101.3 316.3 L1101.8 316.8 L1102.3 317.3 L1102.8 317.8 L1103.3 318.3 L1103.8 318.8 L1104.3 319.3 L1104.8 319.8 L1105.3 320.3 L1105.8 320.9 L1106.3 321.5 L1106.8 322.1 L1107.3 322.8 L1107.8 323.5 L1108.3 324.2 L1108.8 324.9 L1109.3 325.7 L1109.8 326.5 L1110.3 327.3 L1110.8 328.1 L1111.3 329.0 L1111.8 329.8 L1112.3 330.6 L1112.8 331.5 L1113.3 332.3 L1113.8 333.1 L1114.3 333.9 L1114.8 334.7 L1115.3 335.6 L1115.8 336.4 L1116.3 337.3 L1116.8 338.2 L1117.3 339.1 L1117.8 340.0 L1118.3 341.0 L1118.8 341.9 L1119.3 342.8 L1119.8 343.8 L1120.3 344.7 L1120.8 345.5 L1121.3 346.4 L1121.8 347.2 L1122.3 348.0 L1122.8 348.7 L1123.3 349.3 L1123.8 349.9 L1124.3 350.5 L1124.8 351.0 L1125.3 351.4 L1125.8 351.9 L1126.3 352.3 L1126.8 352.7 L1127.3 353.1 L1127.8 353.5 L1128.3 353.9 L1128.8 354.3 L1129.3 354.7 L1129.8 355.0 L1130.3 355.4 L1130.8 355.8 L1131.3 356.3 L1131.8 356.7 L1132.3 357.2 L1132.8 357.7 L1133.3 358.2 L1133.8 358.8 L1134.3 359.4 L1134.8 360.0 L1135.3 360.6 L1135.8 361.2 L1136.3 361.8 L1136.8 362.4 L1137.3 363.0 L1137.8 363.7 L1138.3 364.3 L1138.8 364.9 L1139.3 365.4 L1139.8 366.0 L1140.3 366.5 L1140.8 367.1 L1141.3 367.7 L1141.8 368.3 L1142.3 368.8 L1142.8 369.4 L1143.3 370.0 L1143.8 370.6 L1144.3 371.1 L1144.8 371.6 L1145.3 372.1 L1145.8 372.5 L1146.3 372.9 L1146.8 373.3 L1147.3 373.5 L1147.8 373.8 L1148.3 374.0 L1148.8 374.3 L1149.3 374.5 L1149.8 374.8 L1150.3 375.0 L1150.8 375.2 L1151.3 375.4 L1151.8 375.5 L1152.3 375.7 L1152.8 375.8 L1153.3 375.9 L1153.8 376.0 L1154.3 376.1 L1154.8 376.1 L1155.3 376.1 L1155.8 376.0 L1156.3 375.8 L1156.8 375.5 L1157.3 375.2 L1157.8 374.9 L1158.3 374.5 L1158.8 374.0 L1159.3 373.5 L1159.8 373.0 L1160.3 372.4 L1160.8 371.8 L1161.3 371.2 L1161.8 370.6 L1162.3 369.9 L1162.8 369.2 L1163.3 368.4 L1163.8 367.4 L1164.3 366.3 L1164.8 365.1 L1165.3 363.8 L1165.8 362.5 L1166.3 361.1 L1166.8 359.7 L1167.3 358.3 L1167.8 356.9 L1168.3 355.6 L1168.8 354.3 L1169.3 352.9 L1169.8 351.5 L1170.3 350.1 L1170.8 348.7 L1171.3 347.2 L1171.8 345.8 L1172.3 344.3 L1172.8 342.9 L1173.3 341.5 L1173.8 340.1 L1174.3 338.9 L1174.8 337.6 L1175.3 336.5 L1175.8 335.3 L1176.3 334.2 L1176.8 333.0 L1177.3 331.9 L1177.8 330.8 L1178.3 329.7 L1178.8 328.7 L1179.3 327.6 L1179.8 326.7 L1180.3 325.7 L1180.8 324.9 L1181.3 324.0 L1181.8 323.2 L1182.3 322.5 L1182.8 321.9 L1183.3 321.2 L1183.8 320.6 L1184.3 320.1 L1184.8 319.5 L1185.3 319.0 L1185.8 318.5 L1186.3 318.0 L1186.8 317.5 L1187.3 317.1 L1187.8 316.6 L1188.3 316.2 L1188.8 315.8 L1189.3 315.4 L1189.8 315.0 L1190.3 314.6 L1190.8 314.2 L1191.3 313.9 L1191.8 313.6 L1192.3 313.2 L1192.8 312.9 L1193.3 312.7 L1193.8 312.4 L1194.3 312.1 L1194.8 311.8 L1195.3 311.4 L1195.8 311.1 L1196.3 310.8 L1196.8 310.4 L1197.3 310.0 L1197.8 309.5 L1198.3 309.0 L1198.8 308.5 L1199.3 307.8 L1199.8 307.2 L1200.3 306.5 L1200.8 305.8 L1201.3 305.1 L1201.8 304.4 L1202.3 303.8 L1202.8 303.2 L1203.3 302.6 L1203.8 302.0 L1204.3 301.6 L1204.8 301.2 L1205.3 300.8 L1205.8 300.5 L1206.3 300.1 L1206.8 299.8 L1207.3 299.5 L1207.8 299.2 L1208.3 298.9 L1208.8 298.7 L1209.3 298.5 L1209.8 298.3 L1210.3 298.2 L1210.8 298.1 L1211.3 298.1 L1211.8 298.2 L1212.3 298.4 L1212.8 298.7 L1213.3 299.0 L1213.8 299.4 L1214.3 299.9 L1214.8 300.4 L1215.3 301.0 L1215.8 301.6 L1216.3 302.2 L1216.8 302.8 L1217.3 303.5 L1217.8 304.2 L1218.3 305.0 L1218.8 305.9 L1219.3 307.0 L1219.8 308.1 L1220.3 309.4 L1220.8 310.7 L1221.3 312.0 L1221.8 313.4 L1222.3 314.9 L1222.8 316.4 L1223.3 317.8 L1223.8 319.3 L1224.3 320.7 L1224.8 322.1 L1225.3 323.5 L1225.8 325.0 L1226.3 326.5 L1226.8 328.0 L1227.3 329.6 L1227.8 331.2 L1228.3 332.8 L1228.8 334.4 L1229.3 336.0 L1229.8 337.6 L1230.3 339.1 L1230.8 340.7 L1231.3 342.1 L1231.8 343.5 L1232.3 344.9 L1232.8 346.2 L1233.3 347.5 L1233.8 348.8 L1234.3 350.1 L1234.8 351.4 L1235.3 352.6 L1235.8 353.8 L1236.3 355.0 L1236.8 356.2 L1237.3 357.3 L1237.8 358.4 L1238.3 359.4 L1238.8 360.4 L1239.3 361.4 L1239.8 362.3 L1240.3 363.2 L1240.8 364.1 L1241.3 365.0 L1241.8 365.8 L1242.3 366.7 L1242.8 367.6 L1243.3 368.4 L1243.8 369.2 L1244.3 370.0 L1244.8 370.7 L1245.3 371.4 L1245.8 372.1 L1246.3 372.7 L1246.8 373.3 L1247.3 373.8 L1247.8 374.2 L1248.3 374.6 L1248.8 374.9 L1249.3 375.2 L1249.8 375.5 L1250.3 375.8 L1250.8 376.1 L1251.3 376.4 L1251.8 376.6 L1252.3 376.9 L1252.8 377.1 L1253.3 377.3 L1253.8 377.4 L1254.3 377.6 L1254.8 377.7 L1255.3 377.8 L1255.8 377.8 L1256.3 377.8 L1256.8 377.7 L1257.3 377.4 L1257.8 377.0 L1258.3 376.5 L1258.8 375.9 L1259.3 375.2 L1259.8 374.5 L1260.3 373.6 L1260.8 372.7 L1261.3 371.8 L1261.8 370.8 L1262.3 369.8 L1262.8 368.6 L1263.3 367.1 L1263.8 365.2 L1264.0 364.2 L1264.3 363.1 L1264.5 362.0 L1264.8 360.8 L1265.0 359.6 L1265.3 358.3 L1265.5 357.0 L1265.8 355.7 L1266.0 354.4 L1266.3 353.0 L1266.5 351.6 L1266.8 350.2 L1267.0 348.8 L1267.3 347.4 L1267.5 345.9 L1267.8 344.4 L1268.0 342.8 L1268.3 341.0 L1268.5 339.2 L1268.8 337.4 L1269.0 335.5 L1269.3 333.6 L1269.5 331.7 L1269.8 329.7 L1270.0 327.8 L1270.3 325.9 L1270.5 323.9 L1270.8 322.1 L1271.0 320.3 L1271.3 318.5 L1271.5 316.7 L1271.8 314.9 L1272.0 313.0 L1272.3 311.2 L1272.5 309.4 L1272.8 307.5 L1273.0 305.7 L1273.3 303.9 L1273.5 302.1 L1273.8 300.3 L1274.0 298.5 L1274.3 296.7 L1274.5 295.0 L1274.8 293.3 L1275.0 291.6 L1275.3 289.9 L1275.5 288.3 L1275.8 286.7 L1276.0 285.2 L1276.3 283.7 L1276.5 282.2 L1276.8 280.7 L1277.0 279.2 L1277.3 277.8 L1277.5 276.3 L1277.8 274.9 L1278.0 273.5 L1278.3 272.1 L1278.5 270.7 L1278.8 269.3 L1279.0 268.0 L1279.3 266.6 L1279.5 265.3 L1279.8 264.0 L1280.0 262.7 L1280.3 261.5 L1280.5 260.3 L1280.8 259.1 L1281.0 257.9 L1281.3 256.7 L1281.5 255.6 L1281.8 254.5 L1282.0 253.4 L1282.3 252.4 L1282.5 251.4 L1282.8 250.4 L1283.3 248.4 L1283.8 246.4 L1284.3 244.6 L1284.8 242.7 L1285.3 240.9 L1285.8 239.2 L1286.3 237.5 L1286.8 235.9 L1287.3 234.3 L1287.8 232.8 L1288.3 231.3 L1288.8 230.0 L1289.3 228.6 L1289.8 227.4 L1290.3 226.2 L1290.8 225.0 L1291.3 223.9 L1291.8 222.8 L1292.3 221.8 L1292.8 220.7 L1293.3 219.7 L1293.8 218.7 L1294.3 217.8 L1294.8 216.9 L1295.3 216.0 L1295.8 215.1 L1296.3 214.2 L1296.8 213.4 L1297.3 212.6 L1297.8 211.8 L1298.3 211.0 L1298.8 210.2 L1299.3 209.4 L1299.8 208.7 L1300.3 208.0 L1300.8 207.2 L1301.3 206.5 L1301.8 205.7 L1302.3 205.0 L1302.8 204.3 L1303.3 203.6 L1303.8 202.9 L1304.3 202.2 L1304.8 201.5 L1305.3 200.9 L1305.8 200.2 L1306.3 199.6 L1306.8 199.0 L1307.3 198.5 L1307.8 197.9 L1308.3 197.4 L1308.8 196.9 L1309.3 196.4 L1309.8 195.9 L1310.3 195.5 L1310.8 195.1 L1311.3 194.8 L1311.8 194.4 L1312.3 194.1 L1312.8 193.7 L1313.3 193.4 L1313.8 193.0 L1314.3 192.7 L1314.8 192.4 L1315.3 192.0 L1315.8 191.7 L1316.3 191.5 L1316.8 191.2 L1317.3 190.9 L1317.8 190.7 L1318.3 190.5 L1318.8 190.4 L1319.3 190.2 L1319.8 190.1 L1320.3 190.0 L1320.8 190.0 L1321.3 190.0 L1321.8 190.0 L1322.3 190.1 L1322.8 190.2 L1323.3 190.4 L1323.8 190.5 L1324.3 190.7 L1324.8 191.0 L1325.3 191.2 L1325.8 191.5 L1326.3 191.8 L1326.8 192.1 L1327.3 192.4 L1327.8 192.7 L1328.3 193.1 L1328.8 193.4 L1329.3 193.8 L1329.8 194.1 L1330.3 194.5 L1330.8 194.9 L1331.3 195.2 L1331.8 195.7 L1332.3 196.1 L1332.8 196.7 L1333.3 197.2 L1333.8 197.8 L1334.3 198.5 L1334.8 199.1 L1335.3 199.8 L1335.8 200.5 L1336.3 201.2 L1336.8 202.0 L1337.3 202.7 L1337.8 203.4 L1338.3 204.1 L1338.8 204.8 L1339.3 205.5 L1339.8 206.2 L1340.3 206.9 L1340.8 207.5 L1341.3 208.2 L1341.8 208.9 L1342.3 209.6 L1342.8 210.2 L1343.3 210.9 L1343.8 211.6 L1344.3 212.3 L1344.8 213.0 L1345.3 213.7" stroke="#000" stroke-width="11.5"/>
<g clip-path="url(#redclip)" stroke="#f00" stroke-width="11.5">
<path d="M140.5 368.5 L141.0 366.8 L141.5 365.0 L142.0 363.3 L142.5 361.6 L143.0 360.0 L143.5 358.3 L144.0 356.7 L144.5 355.2 L145.0 353.7 L145.5 352.2 L146.0 350.8 L146.5 349.5 L147.0 348.3 L147.5 347.1 L148.0 345.9 L148.5 344.9 L149.0 343.9 L149.5 343.0 L150.0 342.1 L150.5 341.3 L151.0 340.4 L151.5 339.7 L152.0 338.9 L152.5 338.2 L153.0 337.4 L153.5 336.7 L154.0 336.1 L154.5 335.4 L155.0 334.8 L155.5 334.1 L156.0 333.5 L156.5 332.9 L157.0 332.3 L157.5 331.7 L158.0 331.1 L158.5 330.5 L159.0 329.9 L159.5 329.3 L160.0 328.7 L160.5 328.1 L161.0 327.5 L161.5 326.8 L162.0 326.2 L162.5 325.5 L163.0 324.8 L163.5 324.1 L164.0 323.5 L164.5 322.8 L165.0 322.1 L165.5 321.4 L166.0 320.7 L166.5 320.1 L167.0 319.4 L167.5 318.7 L168.0 318.0 L168.5 317.4 L169.0 316.7 L169.5 316.0 L170.0 315.3 L170.5 314.7 L171.0 314.0 L171.5 313.3 L172.0 312.6 L172.5 312.0 L173.0 311.3 L173.5 310.6 L174.0 309.9 L174.5 309.3 L175.0 308.6 L175.5 307.9 L176.0 307.2 L176.5 306.6 L177.0 305.9 L177.5 305.2 L178.0 304.5 L178.5 303.8 L179.0 303.1 L179.5 302.4 L180.0 301.7 L180.5 300.9 L181.0 300.2 L181.5 299.4 L182.0 298.7 L182.5 298.0 L183.0 297.2 L183.5 296.5 L184.0 295.8 L184.5 295.0 L185.0 294.3 L185.5 293.6 L186.0 293.0 L186.5 292.3" stroke-dasharray="45.46 10.61 23.03 10.81"/>
<path d="M186.5 292.3 L187.0 291.6 L187.5 291.0 L188.0 290.4 L188.5 289.8 L189.0 289.2 L189.5 288.7 L190.0 288.2 L190.5 287.7 L191.0 287.2 L191.5 286.7 L192.0 286.2 L192.5 285.8 L193.0 285.3 L193.5 284.8 L194.0 284.4 L194.5 283.9 L195.0 283.5 L195.5 283.0 L196.0 282.6 L196.5 282.2 L197.0 281.8 L197.5 281.4 L198.0 281.0 L198.5 280.7 L199.0 280.4 L199.5 280.0 L200.0 279.7 L200.5 279.5 L201.0 279.2 L201.5 279.0 L202.0 278.8 L202.5 278.6 L203.0 278.4 L203.5 278.2 L204.0 278.0 L204.5 277.8 L205.0 277.7 L205.5 277.5 L206.0 277.3 L206.5 277.2 L207.0 277.0 L207.5 276.9 L208.0 276.8 L208.5 276.7 L209.0 276.6 L209.5 276.5 L210.0 276.5 L210.5 276.4 L211.0 276.4 L211.5 276.4 L212.0 276.4 L212.5 276.5 L213.0 276.6 L213.5 276.7 L214.0 276.9 L214.5 277.0 L215.0 277.2 L215.5 277.4 L216.0 277.7 L216.5 277.9 L217.0 278.2 L217.5 278.5 L218.0 278.8 L218.5 279.1 L219.0 279.4 L219.5 279.8 L220.0 280.1 L220.5 280.5 L221.0 280.9 L221.5 281.2 L222.0 281.7 L222.5 282.3 L223.0 282.9 L223.5 283.7 L224.0 284.5 L224.5 285.4 L225.0 286.3 L225.5 287.3 L226.0 288.3 L226.5 289.4 L227.0 290.5 L227.5 291.7 L228.0 292.8 L228.5 294.0 L229.0 295.2 L229.5 296.4 L230.0 297.6 L230.5 298.9 L231.0 300.3 L231.5 301.7 L232.0 303.2 L232.5 304.8 L233.0 306.4 L233.5 308.1 L234.0 309.8 L234.5 311.6 L235.0 313.4 L235.5 315.3 L236.0 317.1 L236.5 319.0 L237.0 320.9 L237.5 322.8 L238.0 324.7" stroke-dasharray="44.86 10.47 22.73 10.67"/>
<path d="M238.0 324.7 L238.2 325.7 L238.5 326.8 L238.8 327.8 L239.0 328.8 L239.2 329.9 L239.5 331.0 L239.8 332.1 L240.0 333.2 L240.2 334.3 L240.5 335.4 L240.8 336.5 L241.0 337.6 L241.2 338.7 L241.5 339.9 L241.8 341.0 L242.0 342.1 L242.2 343.3 L242.5 344.4 L242.8 345.5 L243.0 346.7 L243.2 347.8 L243.5 348.9 L243.8 350.0 L244.0 351.2 L244.2 352.3 L244.5 353.5 L244.8 354.7 L245.0 355.9 L245.2 357.1 L245.5 358.4 L245.8 359.6 L246.0 360.8 L246.2 362.0 L246.5 363.2 L246.8 364.4 L247.0 365.6 L247.2 366.7 L247.5 367.8 L247.8 368.8 L248.0 369.8 L248.5 371.6 L249.0 373.3 L249.5 374.8 L250.0 376.4 L250.5 377.9 L251.0 379.3 L251.5 380.6 L252.0 381.8 L252.5 382.9 L253.0 383.8 L253.5 384.6 L254.0 385.1 L254.5 385.7 L255.0 386.3 L255.5 386.8 L256.0 387.3 L256.5 387.7 L257.0 388.0 L257.5 388.3 L258.0 388.5 L258.5 388.6 L259.0 388.6 L259.5 388.5 L260.0 388.2 L260.5 387.9 L261.0 387.5 L261.5 387.0 L262.0 386.4 L262.5 385.8 L263.0 385.1 L263.5 384.4 L264.0 383.7 L264.5 382.9 L265.0 382.1 L265.5 381.2 L266.0 380.1 L266.5 378.8 L267.0 377.3 L267.5 375.7 L268.0 374.0 L268.5 372.2" stroke-dasharray="44.81 10.46 22.70 10.65"/>
<path d="M268.5 372.2 L269.0 370.3 L269.5 368.4 L270.0 366.5 L270.5 364.6 L271.0 362.7 L271.5 360.8 L271.8 359.7 L272.0 358.7 L272.2 357.6 L272.5 356.5 L272.8 355.4 L273.0 354.2 L273.2 353.0 L273.5 351.8 L273.8 350.6 L274.0 349.4 L274.2 348.2 L274.5 347.1 L274.8 345.9 L275.0 344.7 L275.2 343.5 L275.5 342.4 L275.8 341.3 L276.0 340.2 L276.2 339.1 L276.5 338.1 L277.0 336.2 L277.5 334.5 L278.0 332.8 L278.5 331.2 L279.0 329.7 L279.5 328.2 L280.0 326.7 L280.5 325.3 L281.0 323.9 L281.5 322.6 L282.0 321.3 L282.5 320.1 L283.0 318.9 L283.5 317.8 L284.0 316.7 L284.5 315.7 L285.0 314.7 L285.5 313.7 L286.0 312.7 L286.5 311.8 L287.0 310.8 L287.5 309.8 L288.0 308.9 L288.5 308.0 L289.0 307.1 L289.5 306.4 L290.0 305.6 L290.5 305.0 L291.0 304.5 L291.5 304.1 L292.0 303.8 L292.5 303.6 L293.0 303.4 L293.5 303.3 L294.0 303.2 L294.5 303.1 L295.0 302.9 L295.5 302.8 L296.0 302.8 L296.5 302.7 L297.0 302.6 L297.5 302.5 L298.0 302.5 L298.5 302.4 L299.0 302.4 L299.5 302.4 L300.0 302.4 L300.5 302.5 L301.0 302.6 L301.5 302.8 L302.0 303.0 L302.5 303.3 L303.0 303.7 L303.5 304.1 L304.0 304.6 L304.5 305.1 L305.0 305.6 L305.5 306.2 L306.0 306.9" stroke-dasharray="44.95 10.49 22.78 10.69"/>
<path d="M306.0 306.9 L306.5 307.5 L307.0 308.2 L307.5 308.9 L308.0 309.6 L308.5 310.3 L309.0 311.1 L309.5 311.8 L310.0 312.6 L310.5 313.4 L311.0 314.3 L311.5 315.4 L312.0 316.6 L312.5 317.8 L313.0 319.1 L313.5 320.5 L314.0 322.0 L314.5 323.5 L315.0 325.0 L315.5 326.6 L316.0 328.2 L316.5 329.8 L317.0 331.4 L317.5 333.1 L318.0 334.7 L318.5 336.5 L319.0 338.3 L319.5 340.1 L320.0 342.1 L320.5 344.0 L320.8 345.0 L321.0 346.1 L321.2 347.1 L321.5 348.1 L321.8 349.2 L322.0 350.2 L322.2 351.3 L322.5 352.4 L322.8 353.5 L323.0 354.6 L323.2 355.7 L323.5 356.8 L323.8 358.0 L324.0 359.1 L324.2 360.3 L324.5 361.5 L324.8 362.6 L325.0 363.9 L325.2 365.1 L325.5 366.3 L325.8 367.6 L326.0 368.9 L326.2 370.2 L326.5 371.5 L326.8 372.8 L327.0 374.2 L327.2 375.6 L327.5 377.0 L327.8 378.4 L328.0 379.9 L328.2 381.4 L328.5 382.9 L328.8 384.5 L329.0 386.1 L329.2 387.8 L329.5 389.5 L329.8 391.2" stroke-dasharray="44.66 10.42 22.63 10.62"/>
<path d="M329.8 391.2 L330.0 393.0 L330.2 394.8 L330.5 396.7 L330.8 398.5 L331.0 400.4 L331.2 402.4 L331.5 404.3 L331.8 406.2 L332.0 408.2 L332.2 409.5 L332.3 410.9 L332.5 412.4 L332.7 414.0 L332.8 415.6 L333.0 417.4 L333.2 419.1 L333.3 420.9 L333.5 422.7 L333.7 424.4 L333.8 426.1 L334.0 427.7 L334.2 429.3 L334.3 430.7 L334.5 431.9 L334.8 433.5 L335.0 434.7 L335.5 436.1 L336.0 437.4 L336.5 438.5 L337.0 439.5 L337.5 440.4 L338.0 441.1 L338.5 441.6 L339.0 441.9 L339.5 442.0 L340.0 441.9 L340.5 441.7 L341.0 441.4 L341.5 440.9 L342.0 440.4 L342.5 439.9 L343.0 439.3 L343.5 438.6 L344.0 437.6 L344.5 436.4 L345.0 435.0 L345.5 433.3 L346.0 431.5 L346.5 429.5 L346.8 428.5 L347.0 427.4 L347.2 426.3 L347.5 425.1 L347.8 424.0 L348.0 422.8 L348.2 421.6 L348.5 420.4 L348.8 419.2 L349.0 418.0 L349.2 416.5 L349.5 414.9 L349.8 413.2 L350.0 411.4 L350.2 409.7 L350.5 408.1" stroke-dasharray="45.24 10.56 22.92 10.76"/>
<path d="M350.5 408.1 L350.8 406.5 L351.0 405.0 L351.2 403.4 L351.5 401.8 L351.8 400.3 L352.0 398.7 L352.2 397.2 L352.5 395.7 L352.8 394.1 L353.0 392.6 L353.2 391.1 L353.5 389.5 L353.8 388.0 L354.0 386.5 L354.2 384.9 L354.5 383.4 L354.8 381.9 L355.0 380.3 L355.2 378.8 L355.5 377.3 L355.8 375.7 L356.0 374.2 L356.2 372.6 L356.5 371.1 L356.8 369.5 L357.0 367.9 L357.2 366.3 L357.5 364.7 L357.8 363.1 L358.0 361.5 L358.2 359.8 L358.5 358.1 L358.8 356.4 L359.0 354.7 L359.2 352.9 L359.5 351.2 L359.8 349.4 L360.0 347.6 L360.2 345.9 L360.5 344.2 L360.8 342.5 L361.0 340.8 L361.2 339.1 L361.5 337.5 L361.8 335.9 L362.0 334.4 L362.2 332.9 L362.5 331.5 L362.8 330.2 L363.0 328.9 L363.2 327.6 L363.5 326.3 L363.8 325.1 L364.0 323.8 L364.2 322.6 L364.5 321.5 L364.8 320.3" stroke-dasharray="44.98 10.50 22.79 10.70"/>
<path d="M364.8 320.3 L365.0 319.1 L365.2 318.0 L365.5 316.9 L365.8 315.8 L366.0 314.8 L366.2 313.7 L366.5 312.7 L367.0 310.7 L367.5 308.8 L368.0 307.0 L368.5 305.2 L369.0 303.6 L369.5 301.9 L370.0 300.3 L370.5 298.7 L371.0 297.2 L371.5 295.7 L372.0 294.3 L372.5 292.9 L373.0 291.5 L373.5 290.3 L374.0 289.0 L374.5 287.9 L375.0 286.8 L375.5 285.8 L376.0 284.9 L376.5 284.0 L377.0 283.2 L377.5 282.3 L378.0 281.5 L378.5 280.6 L379.0 279.8 L379.5 279.1 L380.0 278.3 L380.5 277.6 L381.0 277.0 L381.5 276.3 L382.0 275.8 L382.5 275.2 L383.0 274.8 L383.5 274.4 L384.0 274.0 L384.5 273.7 L385.0 273.5 L385.5 273.3 L386.0 273.1 L386.5 272.9 L387.0 272.8 L387.5 272.6 L388.0 272.4 L388.5 272.3 L389.0 272.1 L389.5 272.0 L390.0 271.8 L390.5 271.7 L391.0 271.6 L391.5 271.5 L392.0 271.4 L392.5 271.4 L393.0 271.3 L393.5 271.3 L394.0 271.2 L394.5 271.2 L395.0 271.2 L395.5 271.2 L396.0 271.3 L396.5 271.4 L397.0 271.5 L397.5 271.6 L398.0 271.8 L398.5 272.0 L399.0 272.2 L399.5 272.4 L400.0 272.7 L400.5 273.0 L401.0 273.2 L401.5 273.5 L402.0 273.8 L402.5 274.2 L403.0 274.5 L403.5 274.8 L404.0 275.1 L404.5 275.5 L405.0 275.8 L405.5 276.2 L406.0 276.5 L406.5 276.9 L407.0 277.2 L407.5 277.5 L408.0 277.9 L408.5 278.2 L409.0 278.6 L409.5 279.0 L410.0 279.4 L410.5 279.9 L411.0 280.3 L411.5 280.8 L412.0 281.3 L412.5 281.7 L413.0 282.2 L413.5 282.7 L414.0 283.3 L414.5 283.8 L415.0 284.3 L415.5 284.9 L416.0 285.4 L416.5 286.0 L417.0 286.6 L417.5 287.2 L418.0 287.7 L418.5 288.3" stroke-dasharray="46.49 10.85 23.56 11.06"/>
<path d="M418.5 288.3 L419.0 288.9 L419.5 289.5 L420.0 290.1 L420.5 290.8 L421.0 291.4 L421.5 292.0 L422.0 292.7 L422.5 293.3 L423.0 294.0 L423.5 294.7 L424.0 295.4 L424.5 296.1 L425.0 296.9 L425.5 297.6 L426.0 298.4 L426.5 299.2 L427.0 300.0 L427.5 300.8 L428.0 301.7 L428.5 302.5 L429.0 303.4 L429.5 304.3 L430.0 305.3 L430.5 306.3 L431.0 307.3 L431.5 308.3 L432.0 309.4 L432.5 310.6 L433.0 311.7 L433.5 312.9 L434.0 314.2 L434.5 315.4 L435.0 316.7 L435.5 318.0 L436.0 319.4 L436.5 320.7 L437.0 322.1 L437.5 323.5 L438.0 324.9 L438.5 326.3 L439.0 327.8 L439.5 329.4 L440.0 331.0 L440.5 332.6 L441.0 334.3 L441.5 335.9 L442.0 337.6 L442.5 339.4 L443.0 341.1 L443.5 342.9 L444.0 344.6 L444.5 346.4 L445.0 348.1 L445.5 349.8 L446.0 351.6 L446.5 353.4 L447.0 355.1 L447.5 356.9 L448.0 358.7 L448.5 360.6 L449.0 362.4 L449.5 364.2 L450.0 366.1 L450.5 368.0 L451.0 369.8" stroke-dasharray="44.75 10.44 22.67 10.64"/>
<path d="M451.0 369.8 L451.5 371.7 L452.0 373.6 L452.5 375.6 L453.0 377.5 L453.5 379.4 L454.0 381.3 L454.5 383.2 L455.0 385.1 L455.5 387.1 L456.0 389.1 L456.2 390.1 L456.5 391.1 L456.8 392.2 L457.0 393.2 L457.2 394.3 L457.5 395.4 L457.8 396.5 L458.0 397.7 L458.2 398.8 L458.5 400.0 L458.8 401.2 L459.0 402.4 L459.2 403.7 L459.5 404.9 L459.8 406.2 L460.0 407.6 L460.2 408.9 L460.5 410.2 L460.8 411.6 L461.0 413.0 L461.2 414.4 L461.5 415.8 L461.8 417.3 L462.0 418.8 L462.2 420.2 L462.5 421.7 L462.8 423.2 L463.0 424.8 L463.2 426.3 L463.5 427.9 L463.8 429.4 L464.0 431.0 L464.2 432.6 L464.5 434.2 L464.8 435.9 L465.0 437.5 L465.2 439.2 L465.5 440.9 L465.8 442.6 L466.0 444.4 L466.2 446.2 L466.5 448.1 L466.8 449.9 L467.0 451.8 L467.2 453.7 L467.5 455.7" stroke-dasharray="44.24 10.32 22.41 10.52"/>
<path d="M467.5 455.7 L467.8 457.6 L468.0 459.6 L468.2 461.5 L468.5 463.5 L468.8 465.4 L469.0 467.4 L469.2 469.3 L469.5 471.2 L469.8 473.1 L470.0 475.0 L470.2 476.9 L470.5 478.8 L470.8 480.7 L471.0 482.6 L471.2 484.5 L471.5 486.4 L471.8 488.3 L472.0 490.2 L472.2 492.1 L472.5 494.0 L472.8 495.9 L473.0 497.8 L473.2 499.7 L473.5 501.6 L473.8 503.4 L474.0 505.3 L474.2 507.1 L474.5 508.9 L474.8 510.6 L475.0 512.4 L475.2 514.1 L475.5 515.9 L475.8 517.6 L476.0 519.4 L476.2 521.1 L476.5 522.8 L476.8 524.5 L477.0 526.2 L477.2 527.9 L477.5 529.6 L477.8 531.3 L478.0 532.9 L478.2 534.5 L478.5 536.1 L478.8 537.6 L479.0 539.2 L479.2 540.6 L479.5 542.1 L479.8 543.5 L480.0 544.9 L480.2 546.2 L480.5 547.6 L480.8 548.9 L481.0 550.2 L481.2 551.5 L481.5 552.7 L481.8 553.9 L482.0 555.2 L482.2 556.4 L482.5 557.5 L482.8 558.7 L483.0 559.8 L483.2 560.9 L483.5 562.0 L483.8 563.0 L484.0 564.0 L484.5 566.0 L485.0 565.2 L485.5 564.0 L486.0 562.4 L486.5 560.4 L486.8 559.3 L487.0 558.1 L487.3 556.8 L487.5 555.5 L487.8 554.1 L488.0 552.7 L488.3 551.2 L488.5 549.7 L488.8 548.1 L489.0 546.5 L489.3 544.9 L489.5 543.2 L489.8 541.5 L490.0 539.8 L490.2 538.6 L490.3 537.3 L490.5 535.8 L490.7 534.2 L490.8 532.5 L491.0 530.8 L491.2 528.9 L491.3 527.0 L491.5 525.0 L491.6 523.5 L491.8 522.0 L491.9 520.5 L492.0 518.9 L492.1 517.4 L492.3 515.8 L492.4 514.3 L492.5 512.8 L492.7 510.8 L492.8 508.8 L493.0 506.9 L493.2 505.1" stroke-dasharray="43.85 10.23 22.22 10.43"/>
<path d="M493.2 505.1 L493.3 503.3 L493.5 501.6 L493.7 500.1 L493.8 498.6 L494.0 497.2 L494.2 495.7 L494.3 494.3 L494.5 492.9 L494.7 491.6 L494.8 490.2 L495.0 488.9 L495.3 487.0 L495.5 485.0 L495.8 483.2 L496.0 481.3 L496.3 479.5 L496.5 477.7 L496.8 475.9 L497.0 474.2 L497.3 472.4 L497.5 470.7 L497.8 468.9 L498.0 467.2 L498.3 465.5 L498.5 463.8 L498.8 462.0 L499.0 460.3 L499.3 458.5 L499.5 456.8 L499.8 455.1 L500.0 453.4 L500.3 451.7 L500.5 450.0 L500.8 448.3 L501.0 446.7 L501.3 445.0 L501.5 443.4 L501.8 441.8 L502.0 440.2 L502.3 438.6 L502.5 437.1 L502.8 435.5 L503.0 434.0 L503.3 432.5 L503.5 431.0 L503.8 429.6 L504.0 428.1 L504.3 426.8 L504.5 425.4 L504.8 424.1 L505.0 422.7 L505.3 421.4 L505.5 420.2 L505.8 418.9 L506.0 417.6 L506.3 416.3" stroke-dasharray="45.36 10.58 22.98 10.79"/>
<path d="M506.3 416.3 L506.5 415.1 L506.8 413.8 L507.0 412.5 L507.3 411.2 L507.5 409.8 L507.8 408.5 L508.0 407.1 L508.3 405.7 L508.5 404.4 L508.8 403.0 L509.0 401.6 L509.3 400.2 L509.5 398.8 L509.8 397.4 L510.0 396.1 L510.3 394.7 L510.5 393.3 L510.8 392.0 L511.0 390.7 L511.3 389.3 L511.5 388.0 L511.8 386.8 L512.0 385.5 L512.3 384.2 L512.5 382.9 L512.8 381.7 L513.0 380.4 L513.3 379.2 L513.5 377.9 L513.8 376.7 L514.0 375.5 L514.3 374.2 L514.5 373.0 L514.8 371.8 L515.0 370.5 L515.3 369.3 L515.5 368.1 L515.8 366.8 L516.0 365.6 L516.3 364.3 L516.5 363.1 L516.8 361.8 L517.0 360.5 L517.3 359.2 L517.5 357.9 L517.8 356.5 L518.0 355.2 L518.3 353.9 L518.5 352.6 L518.8 351.3 L519.0 350.0 L519.3 348.7 L519.5 347.5 L519.8 346.2 L520.0 345.0 L520.3 343.9 L520.5 342.7 L520.8 341.6 L521.0 340.5 L521.3 339.5 L521.6 338.5 L521.8 337.5 L522.1 336.5 L522.6 334.5 L523.1 332.6 L523.6 330.7 L524.1 328.9" stroke-dasharray="45.10 10.52 22.85 10.72"/>
<path d="M524.1 328.9 L524.6 327.3 L525.1 325.7 L525.6 324.2 L526.1 322.8 L526.6 321.5 L527.1 320.3 L527.6 319.1 L528.1 318.0 L528.6 317.0 L529.1 316.0 L529.6 315.0 L530.1 314.0 L530.6 313.1 L531.1 312.2 L531.6 311.4 L532.1 310.5 L532.6 309.6 L533.1 308.7 L533.6 307.9 L534.1 307.0 L534.6 306.1 L535.1 305.3 L535.6 304.5 L536.1 303.7 L536.6 302.9 L537.1 302.1 L537.6 301.4 L538.1 300.7 L538.6 300.1 L539.1 299.5 L539.6 298.9 L540.1 298.4 L540.6 298.0 L541.1 297.5 L541.6 297.0 L542.1 296.6 L542.6 296.2 L543.1 295.8 L543.6 295.4 L544.1 295.0 L544.6 294.7 L545.1 294.3 L545.6 294.0 L546.1 293.7 L546.6 293.4 L547.1 293.1 L547.6 292.9 L548.1 292.7 L548.6 292.4 L549.1 292.2 L549.6 292.0 L550.1 291.9 L550.6 291.7 L551.1 291.5 L551.6 291.3 L552.1 291.1 L552.6 290.9 L553.1 290.7 L553.6 290.6 L554.1 290.4 L554.6 290.3 L555.1 290.1 L555.6 290.0 L556.1 289.9 L556.6 289.8 L557.1 289.7 L557.6 289.6 L558.1 289.5 L558.6 289.5 L559.1 289.4 L559.6 289.4 L560.1 289.4 L560.6 289.4 L561.1 289.5 L561.6 289.7 L562.1 289.8 L562.6 290.0 L563.1 290.2 L563.6 290.5 L564.1 290.8 L564.6 291.1 L565.1 291.4 L565.6 291.7 L566.1 292.1 L566.6 292.5 L567.1 292.8 L567.6 293.2 L568.1 293.6 L568.6 294.0 L569.1 294.3 L569.6 294.7 L570.1 295.1 L570.6 295.4 L571.1 295.9 L571.6 296.3 L572.1 296.8 L572.6 297.2 L573.1 297.7 L573.6 298.3 L574.1 298.8 L574.6 299.3 L575.1 299.9 L575.6 300.4 L576.1 301.0 L576.6 301.5 L577.1 302.1 L577.6 302.6 L578.1 303.1 L578.6 303.7 L579.1 304.2 L579.6 304.6 L580.1 305.1 L580.6 305.6 L581.1 306.1 L581.6 306.6 L582.1 307.1 L582.6 307.6 L583.1 308.1 L583.6 308.7 L584.1 309.2 L584.6 309.7" stroke-dasharray="45.22 10.55 22.91 10.75"/>
<path d="M584.6 309.7 L585.1 310.2 L585.6 310.6 L586.1 311.1 L586.6 311.5 L587.1 311.9 L587.6 312.3 L588.1 312.7 L588.6 313.0 L589.1 313.3 L589.6 313.5 L590.1 313.7 L590.6 313.9 L591.1 314.1 L591.6 314.3 L592.1 314.4 L592.6 314.6 L593.1 314.8 L593.6 315.0 L594.1 315.1 L594.7 315.3 L595.2 315.4 L595.7 315.5 L596.2 315.7 L596.7 315.8 L597.2 315.9 L597.7 315.9 L598.2 316.0 L598.7 316.0 L599.2 316.1 L599.7 316.1 L600.2 316.1 L600.7 316.1 L601.2 316.0 L601.7 316.0 L602.2 315.9 L602.7 315.8 L603.2 315.6 L603.7 315.5 L604.2 315.3 L604.7 315.2 L605.2 315.0 L605.7 314.8 L606.2 314.6 L606.7 314.4 L607.2 314.3 L607.7 314.1 L608.2 313.9 L608.7 313.7 L609.2 313.5 L609.7 313.3 L610.2 313.1 L610.7 312.9 L611.2 312.8 L611.7 312.6 L612.2 312.5 L612.7 312.3 L613.2 312.2 L613.7 312.1 L614.2 311.9 L614.7 311.8 L615.2 311.6 L615.7 311.5 L616.2 311.3 L616.7 311.2 L617.2 311.0 L617.7 310.9 L618.2 310.7 L618.7 310.6 L619.2 310.5 L619.7 310.4 L620.2 310.3 L620.7 310.2 L621.2 310.1 L621.7 310.0 L622.2 310.0 L622.7 309.9 L623.2 309.9 L623.7 309.9 L624.2 309.9 L624.7 310.0 L625.2 310.0 L625.7 310.1 L626.2 310.2 L626.7 310.3 L627.2 310.4 L627.7 310.6 L628.2 310.7 L628.7 310.9 L629.2 311.1 L629.7 311.3 L630.2 311.5 L630.7 311.7 L631.2 311.9 L631.7 312.2 L632.2 312.4 L632.7 312.6 L633.2 312.9 L633.7 313.1 L634.2 313.3 L634.7 313.6 L635.2 313.8 L635.7 314.0 L636.2 314.3 L636.7 314.6 L637.2 314.9 L637.7 315.2 L638.2 315.6 L638.7 315.9 L639.2 316.3 L639.7 316.7 L640.2 317.0 L640.7 317.5 L641.2 317.9 L641.7 318.3 L642.2 318.7 L642.7 319.2 L643.2 319.6 L643.7 320.1 L644.2 320.6 L644.7 321.0 L645.2 321.5 L645.7 322.0 L646.2 322.5 L646.7 323.0 L647.2 323.5 L647.7 324.0 L648.2 324.6 L648.7 325.1 L649.2 325.7 L649.7 326.3 L650.2 327.0 L650.7 327.6 L651.2 328.3 L651.7 328.9 L652.2 329.6 L652.7 330.3 L653.2 331.1 L653.7 331.8 L654.2 332.5 L654.7 333.3 L655.2 334.1 L655.7 334.9 L656.2 335.7 L656.7 336.5" stroke-dasharray="43.27 10.10 21.92 10.29"/>
<path d="M656.7 336.5 L657.2 337.3 L657.7 338.1 L658.2 339.0 L658.7 339.9 L659.2 340.8 L659.7 341.7 L660.2 342.6 L660.7 343.6 L661.2 344.6 L661.7 345.6 L662.2 346.6 L662.7 347.7 L663.2 348.8 L663.7 349.9 L664.2 351.0 L664.7 352.2 L665.2 353.4 L665.7 354.6 L666.2 355.8 L666.7 357.1 L667.2 358.4 L667.8 359.7 L668.3 361.1 L668.8 362.5 L669.3 364.0 L669.8 365.5 L670.3 367.1 L670.8 368.7 L671.3 370.3 L671.8 372.0 L672.3 373.8 L672.8 375.6 L673.3 377.5 L673.8 379.4 L674.0 380.5 L674.3 381.5 L674.5 382.5 L674.8 383.6 L675.0 384.7 L675.3 385.9 L675.5 387.0 L675.8 388.2 L676.0 389.4 L676.3 390.6 L676.5 391.9 L676.8 393.2 L677.0 394.6 L677.3 396.1 L677.5 397.6 L677.8 399.1 L678.0 400.7 L678.3 402.3 L678.5 403.9 L678.8 405.5 L679.0 407.1 L679.3 408.8 L679.5 410.4 L679.8 412.1 L680.0 413.7 L680.3 415.4 L680.5 417.2 L680.8 418.9 L681.0 420.7 L681.3 422.5 L681.5 424.3" stroke-dasharray="46.49 10.85 23.56 11.06"/>
<path d="M681.5 424.3 L681.8 426.1 L682.0 428.0 L682.3 429.8 L682.5 431.6 L682.8 433.4 L683.0 435.3 L683.3 437.1 L683.5 439.0 L683.8 440.8 L684.0 442.7 L684.3 444.6 L684.5 446.5 L684.8 448.4 L685.0 450.2 L685.3 452.1 L685.5 454.0 L685.8 455.9 L686.0 457.8 L686.3 459.7 L686.5 461.6 L686.8 463.5 L687.0 465.3 L687.3 467.2 L687.5 469.1 L687.8 471.0 L688.0 472.9 L688.3 474.8 L688.5 476.7 L688.8 478.6 L689.0 480.5 L689.3 482.4 L689.5 484.3 L689.8 486.2 L690.0 488.0 L690.3 489.9 L690.5 491.8 L690.8 493.7 L691.0 495.6 L691.3 497.4 L691.5 499.3 L691.8 501.1 L692.0 503.0 L692.3 504.8 L692.5 506.6 L692.8 508.4 L693.0 510.2 L693.3 512.0" stroke-dasharray="44.74 10.44 22.67 10.64"/>
<path d="M693.3 512.0 L693.5 513.8 L693.8 515.6 L694.0 517.4 L694.3 519.2 L694.5 521.0 L694.8 522.8 L695.0 524.5 L695.3 526.3 L695.5 528.0 L695.8 529.8 L696.0 531.5 L696.3 533.2 L696.5 534.9 L696.8 536.6 L697.0 538.2 L697.3 539.8 L697.5 541.5 L697.8 543.1 L698.0 544.8 L698.3 546.4 L698.5 548.1 L698.8 549.7 L699.0 551.3 L699.3 552.9 L699.5 554.4 L699.8 555.9 L700.0 557.4 L700.3 558.8 L700.5 560.1 L700.8 561.4 L701.0 562.6 L701.3 563.8 L701.5 564.9 L701.8 566.0 L702.0 567.1 L702.3 568.1 L702.8 570.1 L703.3 571.9 L703.8 573.5 L704.3 575.0 L704.8 574.1 L705.3 572.9 L705.8 571.5 L706.3 569.9 L706.8 568.1 L707.3 566.2 L707.6 565.2 L707.8 564.2 L708.1 563.1 L708.3 562.0 L708.6 560.8 L708.8 559.7 L709.1 558.5 L709.3 557.3 L709.6 556.1 L709.8 554.9 L710.1 553.5 L710.3 552.1 L710.6 550.5 L710.8 548.9 L711.1 547.1 L711.3 545.3 L711.6 543.4 L711.8 541.4 L712.0 540.0 L712.1 538.7 L712.3 537.3 L712.5 535.9 L712.6 534.5 L712.8 533.1 L713.0 531.7 L713.1 530.3 L713.3 528.9 L713.5 527.5 L713.6 526.2 L713.8 524.8 L714.1 522.8 L714.3 520.9 L714.6 519.1 L714.8 517.3 L715.1 515.5 L715.3 513.8 L715.6 512.1 L715.8 510.4 L716.1 508.7 L716.3 507.0 L716.6 505.4 L716.8 503.7 L717.1 502.1 L717.3 500.4 L717.6 498.8 L717.8 497.2 L718.1 495.6 L718.3 494.0 L718.6 492.4 L718.8 490.9 L719.1 489.3 L719.3 487.8 L719.6 486.3 L719.8 484.7 L720.1 483.2 L720.3 481.7 L720.6 480.3 L720.8 478.8 L721.1 477.3 L721.3 475.9 L721.6 474.5 L721.8 473.1 L722.1 471.6 L722.3 470.2 L722.6 468.8 L722.8 467.4 L723.1 466.1 L723.3 464.7" stroke-dasharray="44.53 10.39 22.56 10.59"/>
<path d="M723.3 464.7 L723.6 463.3 L723.8 461.9 L724.1 460.5 L724.3 459.2 L724.6 457.8 L724.8 456.4 L725.1 455.0 L725.3 453.7 L725.6 452.3 L725.8 450.9 L726.1 449.5 L726.3 448.1 L726.6 446.7 L726.8 445.3 L727.1 443.9 L727.3 442.5 L727.6 441.0 L727.8 439.6 L728.1 438.2 L728.3 436.8 L728.6 435.4 L728.8 434.0 L729.1 432.6 L729.3 431.2 L729.6 429.9 L729.8 428.5 L730.1 427.2 L730.3 425.8 L730.6 424.6 L730.8 423.3 L731.1 422.0 L731.3 420.8 L731.6 419.5 L731.8 418.3 L732.1 417.1 L732.3 415.9 L732.6 414.8 L732.9 413.6 L733.1 412.4 L733.4 411.3 L733.6 410.2 L733.9 409.0 L734.1 407.9 L734.4 406.8 L734.6 405.7 L734.9 404.6 L735.1 403.6 L735.4 402.5 L735.9 400.5 L736.4 398.6 L736.9 396.7 L737.4 394.8 L737.6 393.8 L737.9 392.7 L738.1 391.6 L738.4 390.5 L738.6 389.3 L738.9 388.0 L739.1 386.6 L739.4 385.2 L739.6 383.7 L739.9 382.2 L740.1 380.6 L740.4 379.0" stroke-dasharray="44.16 10.30 22.37 10.50"/>
<path d="M740.4 379.0 L740.6 377.4 L740.9 375.8 L741.1 374.2 L741.4 372.5 L741.6 370.9 L741.9 369.2 L742.1 367.6 L742.4 366.1 L742.6 364.5 L742.9 363.1 L743.1 361.6 L743.4 360.2 L743.6 358.8 L743.9 357.4 L744.1 356.0 L744.4 354.6 L744.6 353.2 L744.9 351.8 L745.1 350.5 L745.4 349.1 L745.6 347.8 L745.9 346.4 L746.1 345.1 L746.4 343.8 L746.6 342.5 L746.9 341.2 L747.1 339.9 L747.4 338.6 L747.6 337.3 L747.9 336.0 L748.1 334.8 L748.4 333.5 L748.6 332.3 L748.9 331.0 L749.1 329.8 L749.4 328.5 L749.6 327.3 L749.9 326.1 L750.1 324.8 L750.4 323.6 L750.6 322.4 L750.9 321.2 L751.1 320.0 L751.4 318.8 L751.6 317.6 L751.9 316.4 L752.1 315.3 L752.4 314.1 L752.6 313.0 L752.9 311.9 L753.1 310.8 L753.4 309.7 L753.6 308.7 L753.9 307.7 L754.1 306.6 L754.4 305.7 L754.9 303.7 L755.4 301.7 L755.9 299.8 L756.4 297.9 L756.9 296.1 L757.4 294.3 L757.9 292.6 L758.4 290.9" stroke-dasharray="45.51 10.62 23.06 10.82"/>
<path d="M758.4 290.9 L758.9 289.3 L759.4 287.8 L759.9 286.4 L760.4 285.1 L760.9 283.9 L761.4 282.7 L761.9 281.6 L762.4 280.4 L762.9 279.3 L763.4 278.3 L763.9 277.3 L764.4 276.3 L764.9 275.5 L765.4 274.7 L765.9 274.0 L766.4 273.4 L766.9 272.9 L767.4 272.4 L767.9 272.0 L768.4 271.5 L768.9 271.1 L769.4 270.7 L769.9 270.3 L770.4 269.9 L770.9 269.6 L771.4 269.3 L771.9 269.1 L772.4 268.9 L772.9 268.8 L773.4 268.7 L773.9 268.7 L774.4 268.8 L774.9 269.0 L775.4 269.2 L775.9 269.5 L776.4 269.9 L776.9 270.3 L777.4 270.7 L777.9 271.3 L778.4 271.8 L778.9 272.4 L779.4 273.0 L779.9 273.6 L780.4 274.3 L780.9 275.3 L781.4 276.4 L781.9 277.7 L782.4 279.1 L782.9 280.7 L783.4 282.3 L783.9 284.1 L784.4 285.9 L784.9 287.8 L785.4 289.6 L785.9 291.5 L786.4 293.3 L786.9 295.2 L787.4 297.2 L787.7 298.2 L787.9 299.3 L788.2 300.3 L788.4 301.4 L788.7 302.6 L788.9 303.7 L789.2 304.8 L789.5 306.0 L789.7 307.2 L790.0 308.5 L790.2 309.7 L790.5 311.0 L790.7 312.3 L791.0 313.6 L791.2 314.9 L791.5 316.3 L791.7 317.7 L792.0 319.2 L792.2 320.8 L792.5 322.4" stroke-dasharray="43.94 10.25 22.27 10.45"/>
<path d="M792.5 322.4 L792.7 324.0 L793.0 325.7 L793.2 327.4 L793.5 329.1 L793.7 330.8 L794.0 332.6 L794.2 334.3 L794.5 336.1 L794.7 337.9 L795.0 339.6 L795.2 341.4 L795.5 343.1 L795.7 344.8 L796.0 346.5 L796.2 348.2 L796.5 349.9 L796.7 351.7 L797.0 353.5 L797.2 355.3 L797.5 357.2 L797.7 359.1 L798.0 361.1 L798.1 362.4 L798.3 363.8 L798.5 365.2 L798.6 366.7 L798.8 368.2 L799.0 369.8 L799.1 371.3 L799.3 373.0 L799.5 374.7 L799.6 376.4 L799.8 378.2 L800.0 380.0 L800.1 381.8 L800.3 383.8 L800.5 385.7 L800.6 387.3 L800.7 388.8 L800.8 390.4 L801.0 392.0 L801.1 393.6 L801.2 395.3 L801.3 397.0 L801.5 398.9 L801.6 400.4 L801.7 402.0 L801.8 403.6 L801.9 405.3 L802.0 407.0 L802.1 408.7 L802.2 410.5" stroke-dasharray="44.84 10.46 22.72 10.66"/>
<path d="M802.2 410.5 L802.3 412.3 L802.4 414.1 L802.5 415.9 L802.6 417.7 L802.7 419.5 L802.8 421.4 L802.9 423.2 L803.0 425.0 L803.1 426.8 L803.2 428.6 L803.3 430.4 L803.4 432.1 L803.5 433.8 L803.6 435.9 L803.7 437.9 L803.9 439.9 L804.0 441.8 L804.1 443.7 L804.2 445.5 L804.4 447.3 L804.5 449.1 L804.6 450.9 L804.7 452.7 L804.9 454.5 L805.0 456.3 L805.1 458.1 L805.2 459.9 L805.4 461.7 L805.5 463.5 L805.6 465.4 L805.7 467.3 L805.9 469.3 L806.0 471.3 L806.1 473.0 L806.2 474.7 L806.3 476.4 L806.4 478.2 L806.5 480.0 L806.6 481.8 L806.7 483.7 L806.8 485.6 L806.9 487.6 L807.0 489.5 L807.1 491.2 L807.1 492.9 L807.2 494.6 L807.3 496.3 L807.4 498.0 L807.5 499.7" stroke-dasharray="45.20 10.55 22.90 10.75"/>
<path d="M807.5 499.7 L807.6 501.5 L807.6 503.2 L807.7 504.9 L807.8 506.7 L807.9 508.4 L808.0 510.2 L808.1 511.9 L808.2 513.7 L808.2 515.4 L808.3 517.1 L808.4 518.8 L808.5 520.5 L808.6 522.6 L808.7 524.6 L808.8 526.6 L808.9 528.5 L809.0 530.4 L809.1 532.2 L809.2 534.0 L809.3 535.7 L809.4 537.5 L809.5 539.2 L809.6 541.0 L809.7 542.7 L809.8 544.4 L809.9 546.2 L810.0 548.0 L810.1 549.8 L810.2 551.7 L810.3 553.6 L810.4 555.6 L810.5 557.7 L810.6 559.4 L810.7 561.3 L810.7 563.2 L810.8 565.1 L810.9 567.1 L811.0 569.2 L811.1 570.8 L811.1 572.5 L811.2 574.2 L811.2 576.0 L811.3 578.0 L811.4 580.2 L811.4 582.5 L811.5 585.0 L811.5 586.7 L811.6 588.5" stroke-dasharray="44.94 10.49 22.77 10.69"/>
<path d="M811.6 588.5 L811.6 590.3 L811.7 592.2 L811.7 594.1 L811.7 596.0 L811.8 597.9 L811.8 599.8 L811.9 601.8 L811.9 603.7 L811.9 605.7 L812.0 607.6 L812.0 609.7 L812.1 611.8 L812.1 613.8 L812.2 615.8 L812.2 617.7 L812.3 619.6 L812.3 621.4 L812.4 623.1 L812.4 624.8 L812.4 626.4 L812.5 627.9 L812.6 630.0 L812.6 631.9 L812.7 633.8 L812.7 635.7 L812.8 637.5 L812.9 639.3 L812.9 641.0 L813.0 642.7 L813.1 644.5 L813.1 646.2 L813.2 648.0 L813.2 649.8 L813.3 651.6 L813.4 653.5 L813.4 655.4 L813.5 657.5 L813.5 659.0 L813.6 660.6 L813.6 662.2 L813.7 663.9 L813.7 665.6 L813.8 667.4 L813.8 669.4 L813.9 671.4 L813.9 673.5 L813.9 675.6 L814.0 677.9" stroke-dasharray="45.20 10.55 22.90 10.75"/>
<path d="M814.0 677.9 L814.0 679.7 L814.1 681.5 L814.1 683.4 L814.1 685.2 L814.2 687.2 L814.2 689.1 L814.2 691.0 L814.3 693.0 L814.3 694.9 L814.4 696.9 L814.4 698.8 L814.4 700.8 L814.5 702.7 L814.5 704.7 L814.5 706.8 L814.6 708.8 L814.6 710.8 L814.6 712.8 L814.7 714.8 L814.7 716.7 L814.8 718.6 L814.8 720.5 L814.8 722.3 L814.9 724.0 L814.9 725.7 L815.0 727.4 L815.0 729.0 L815.0 731.1 L815.1 733.1 L815.1 735.2 L815.2 737.2 L815.2 739.1 L815.3 741.1 L815.3 743.0 L815.4 744.9 L815.4 746.8 L815.5 748.6 L815.5 750.5 L815.6 752.4 L815.6 754.2 L815.7 756.0 L815.7 757.9 L815.8 759.7 L815.8 761.6 L815.9 763.4 L815.9 765.3" stroke-dasharray="44.20 10.31 22.40 10.51"/>
<path d="M815.9 765.3 L816.0 767.2 L816.0 769.0 L816.1 770.9 L816.1 772.9 L816.2 774.8 L816.2 776.8 L816.3 778.7 L816.3 780.7 L816.4 782.7 L816.4 784.6 L816.5 786.6 L816.5 788.6 L816.6 790.5 L816.6 792.5 L816.7 794.5 L816.7 796.5 L816.8 798.5 L816.8 800.5 L816.9 802.4 L816.9 804.4 L817.0 806.4 L817.0 808.2 L817.1 810.1 L817.1 811.9 L817.2 813.7 L817.2 815.5 L817.3 817.3 L817.3 819.2 L817.4 821.0 L817.4 822.8 L817.5 824.7 L817.5 826.5 L817.6 825.2 L817.7 823.6 L817.8 821.9 L817.9 820.0 L818.0 817.9 L818.1 816.3 L818.1 814.7 L818.2 813.0 L818.3 811.2 L818.4 809.4 L818.4 807.5 L818.5 805.5 L818.6 804.0 L818.6 802.4 L818.7 800.8 L818.7 799.2" stroke-dasharray="44.77 10.45 22.68 10.64"/>
<path d="M818.7 799.2 L818.8 797.5 L818.8 795.6 L818.9 793.7 L818.9 791.6 L819.0 789.4 L819.0 787.7 L819.1 786.0 L819.1 784.2 L819.2 782.4 L819.2 780.6 L819.3 778.8 L819.3 776.9 L819.3 775.0 L819.4 773.1 L819.4 771.2 L819.5 769.3 L819.5 767.3 L819.5 765.3 L819.6 763.2 L819.6 761.1 L819.7 759.1 L819.7 757.1 L819.8 755.1 L819.8 753.2 L819.9 751.3 L819.9 749.5 L820.0 747.7 L820.0 745.8 L820.0 744.0 L820.1 742.1 L820.1 740.3 L820.2 738.4 L820.2 736.6 L820.3 734.7 L820.3 732.9 L820.4 731.0 L820.4 729.2 L820.5 727.3 L820.5 725.5 L820.6 723.5 L820.6 721.5 L820.7 719.6 L820.7 717.6 L820.8 715.7 L820.8 713.8 L820.9 712.0 L820.9 710.2" stroke-dasharray="45.05 10.51 22.82 10.71"/>
<path d="M820.9 710.2 L821.0 708.4 L821.0 706.6 L821.1 704.4 L821.1 702.4 L821.2 700.3 L821.3 698.4 L821.3 696.5 L821.4 694.7 L821.4 692.9 L821.5 691.2 L821.6 689.3 L821.6 687.4 L821.7 685.6 L821.8 683.8 L821.9 682.0 L821.9 680.3 L822.0 678.5 L822.1 676.8 L822.1 675.0 L822.2 673.2 L822.3 671.4 L822.4 669.6 L822.4 667.7 L822.5 665.7 L822.6 664.2 L822.6 662.6 L822.7 660.9 L822.7 659.2 L822.8 657.4 L822.8 655.6 L822.9 653.7 L822.9 651.7 L823.0 649.7 L823.1 647.8 L823.1 645.9 L823.2 644.1 L823.2 642.2 L823.3 640.3 L823.3 638.4 L823.4 636.6 L823.4 634.7 L823.5 632.9 L823.5 631.2 L823.6 629.0 L823.6 627.0 L823.7 625.1 L823.8 623.2 L823.8 621.4" stroke-dasharray="44.89 10.47 22.74 10.67"/>
<path d="M823.8 621.4 L823.9 619.7 L823.9 617.9 L824.0 616.3 L824.1 614.4 L824.1 612.5 L824.2 610.7 L824.3 608.9 L824.4 607.2 L824.4 605.5 L824.5 603.8 L824.6 601.8 L824.7 599.9 L824.8 597.9 L824.8 596.0 L824.9 594.1 L825.0 592.1 L825.1 590.5 L825.1 588.8 L825.2 587.1 L825.3 585.4 L825.4 583.6 L825.4 581.8 L825.5 580.0 L825.6 578.2 L825.6 576.3 L825.7 574.4 L825.8 572.4 L825.9 570.4 L825.9 568.3 L826.0 566.2 L826.1 564.3 L826.1 562.4 L826.2 560.5 L826.3 558.5 L826.3 556.6 L826.4 554.6 L826.4 552.6 L826.5 550.7 L826.6 548.7 L826.6 546.8 L826.7 544.8 L826.8 542.9 L826.8 541.0 L826.9 539.1 L826.9 537.3 L827.0 535.4 L827.1 533.4" stroke-dasharray="44.54 10.39 22.57 10.59"/>
<path d="M827.1 533.4 L827.1 531.4 L827.2 529.5 L827.3 527.6 L827.4 525.8 L827.4 524.1 L827.5 522.4 L827.6 520.4 L827.7 518.5 L827.8 516.6 L827.8 514.7 L827.9 512.9 L828.0 511.1 L828.1 509.3 L828.2 507.5 L828.3 505.7 L828.3 504.0 L828.4 502.3 L828.5 500.6 L828.6 498.6 L828.7 496.7 L828.8 494.7 L828.9 492.8 L829.0 490.9 L829.1 489.1 L829.2 487.2 L829.3 485.4 L829.4 483.6 L829.5 481.8 L829.6 480.1 L829.7 478.3 L829.8 476.6 L829.9 474.9 L830.0 473.2 L830.1 471.1 L830.3 469.1 L830.4 467.1 L830.5 465.2 L830.6 463.3 L830.8 461.5 L830.9 459.6 L831.0 457.8 L831.1 456.0 L831.3 454.2 L831.4 452.4 L831.5 450.7 L831.6 448.9 L831.8 447.1 L831.9 445.3" stroke-dasharray="44.63 10.41 22.61 10.61"/>
<path d="M831.9 445.3 L832.0 443.4 L832.1 441.6 L832.3 439.7 L832.4 437.8 L832.5 435.8 L832.6 434.2 L832.7 432.5 L832.8 430.8 L832.9 429.1 L833.0 427.3 L833.1 425.5 L833.2 423.8 L833.3 422.0 L833.4 420.2 L833.5 418.4 L833.6 416.7 L833.7 414.9 L833.8 413.2 L833.9 411.5 L834.0 409.8 L834.1 407.7 L834.3 405.7 L834.4 403.8 L834.5 402.0 L834.6 400.3 L834.8 398.7 L834.9 397.2 L835.0 395.8 L835.2 394.0 L835.3 392.2 L835.5 390.6 L835.7 389.0 L835.8 387.4 L836.0 385.9 L836.2 384.5 L836.3 383.1 L836.5 381.7 L836.8 379.7 L837.0 377.8 L837.3 375.9 L837.5 374.0 L837.8 372.1 L838.0 370.2 L838.3 368.3 L838.5 366.3 L838.7 365.0 L838.8 363.6 L839.0 362.2 L839.2 360.8 L839.3 359.4 L839.5 358.0 L839.7 356.6 L839.8 355.2" stroke-dasharray="45.76 10.68 23.18 10.88"/>
<path d="M839.8 355.2 L840.0 353.7 L840.2 352.3 L840.3 350.9 L840.5 349.5 L840.7 348.2 L840.8 346.8 L841.0 345.4 L841.3 343.4 L841.5 341.4 L841.8 339.5 L842.0 337.7 L842.3 335.9 L842.5 334.1 L842.8 332.4 L843.0 330.7 L843.3 329.1 L843.5 327.4 L843.8 325.8 L844.0 324.2 L844.3 322.6 L844.5 321.1 L844.8 319.6 L845.0 318.1 L845.3 316.6 L845.5 315.2 L845.8 313.7 L846.0 312.3 L846.3 310.9 L846.5 309.6 L846.8 308.2 L847.0 306.9 L847.3 305.6 L847.5 304.3 L847.8 303.0 L848.0 301.7 L848.3 300.4 L848.5 299.2 L848.8 297.9 L849.0 296.7 L849.3 295.4 L849.5 294.2 L849.8 293.0 L850.0 291.8 L850.3 290.7 L850.5 289.6 L850.8 288.5 L851.0 287.5 L851.5 285.5 L852.0 283.7 L852.5 282.0 L853.0 280.5 L853.5 279.0 L854.0 277.5 L854.5 276.1 L855.0 274.8 L855.5 273.5 L856.0 272.2 L856.5 271.0 L857.0 269.9 L857.5 268.9 L858.0 267.9" stroke-dasharray="45.24 10.56 22.92 10.76"/>
<path d="M858.0 267.9 L858.5 267.0 L859.0 266.1 L859.5 265.4 L860.0 264.7 L860.5 264.1 L861.0 263.5 L861.5 262.9 L862.0 262.4 L862.5 261.8 L863.0 261.3 L863.5 260.8 L864.0 260.4 L864.5 259.9 L865.0 259.5 L865.5 259.1 L866.0 258.8 L866.5 258.4 L867.0 258.1 L867.5 257.9 L868.0 257.6 L868.5 257.4 L869.0 257.2 L869.5 257.1 L870.0 256.9 L870.5 256.7 L871.0 256.6 L871.5 256.4 L872.0 256.3 L872.5 256.1 L873.0 256.0 L873.5 255.9 L874.0 255.8 L874.5 255.7 L875.0 255.6 L875.5 255.5 L876.0 255.5 L876.5 255.4 L877.0 255.4 L877.5 255.4 L878.0 255.4 L878.5 255.5 L879.0 255.6 L879.5 255.7 L880.0 255.8 L880.5 256.0 L881.0 256.2 L881.5 256.4 L882.0 256.6 L882.5 256.9 L883.0 257.1 L883.5 257.4 L884.0 257.7 L884.5 258.0 L885.0 258.3 L885.5 258.6 L886.0 259.0 L886.5 259.3 L887.0 259.7 L887.5 260.0 L888.0 260.4 L888.5 260.9 L889.0 261.4 L889.5 262.0 L890.0 262.6 L890.5 263.3 L891.0 264.0 L891.5 264.7 L892.0 265.5 L892.5 266.3 L893.0 267.2 L893.5 268.1 L894.0 268.9 L894.5 269.8 L895.0 270.7 L895.5 271.6 L896.0 272.5 L896.5 273.4 L897.0 274.3 L897.5 275.2 L898.0 276.0 L898.5 276.9 L899.0 277.8 L899.5 278.8 L900.0 279.7 L900.5 280.7 L901.0 281.7 L901.5 282.7 L902.0 283.7 L902.5 284.7 L903.0 285.8 L903.5 286.8 L904.0 287.9 L904.5 289.0 L905.0 290.1 L905.6 291.2 L906.1 292.3 L906.6 293.4 L907.1 294.6 L907.6 295.7 L908.1 296.9 L908.6 298.1 L909.1 299.3 L909.6 300.6 L910.1 301.8 L910.6 303.1 L911.1 304.4 L911.6 305.7 L912.1 307.0" stroke-dasharray="44.89 10.48 22.75 10.67"/>
<path d="M912.1 307.0 L912.6 308.3 L913.1 309.7 L913.6 311.1 L914.1 312.5 L914.6 313.9 L915.1 315.4 L915.6 316.8 L916.1 318.4 L916.6 319.9 L917.1 321.5 L917.6 323.1 L918.1 324.7 L918.6 326.4 L919.1 328.1 L919.6 329.8 L920.1 331.5 L920.6 333.3 L921.1 335.1 L921.6 336.8 L922.1 338.7 L922.6 340.5 L923.1 342.4 L923.6 344.3 L924.1 346.2 L924.6 348.2 L924.8 349.3 L925.1 350.3 L925.3 351.3 L925.6 352.3 L925.8 353.3 L926.1 354.4 L926.3 355.4 L926.6 356.4 L926.8 357.5 L927.1 358.5 L927.3 359.5 L927.6 360.6 L927.8 361.6 L928.1 362.6 L928.3 363.6 L928.6 364.7 L928.8 365.7 L929.1 366.7 L929.3 367.7 L929.6 368.7 L929.8 369.8 L930.1 370.8 L930.3 371.9 L930.6 372.9 L930.8 374.0 L931.1 375.0 L931.3 376.0 L931.6 377.1 L931.8 378.1 L932.1 379.2 L932.3 380.2 L932.6 381.2 L932.8 382.2 L933.1 383.2 L933.6 385.2 L934.1 387.1 L934.6 389.0 L935.1 390.7" stroke-dasharray="43.94 10.25 22.27 10.45"/>
<path d="M935.1 390.7 L935.6 392.4 L936.1 394.0 L936.6 395.5 L937.1 397.0 L937.6 398.5 L938.1 400.1 L938.6 401.7 L939.1 403.4 L939.6 405.3 L939.8 406.3 L940.1 407.3 L940.3 408.4 L940.6 409.5 L940.8 410.7 L941.1 411.9 L941.3 413.1 L941.6 414.4 L941.8 415.6 L942.1 416.9 L942.3 418.1 L942.6 419.4 L942.8 420.7 L943.1 421.9 L943.3 423.2 L943.6 424.4 L943.8 425.6 L944.1 426.8 L944.3 427.9 L944.6 429.0 L944.8 430.1 L945.1 431.1 L945.3 432.2 L945.6 433.2 L945.8 434.2 L946.1 435.2 L946.6 437.2 L947.1 439.1 L947.6 441.1 L948.1 442.9 L948.6 444.8 L949.1 446.6 L949.6 448.4 L950.1 450.2 L950.6 451.9 L951.1 453.5 L951.6 455.2 L952.1 456.8 L952.6 458.4 L953.1 460.0 L953.6 461.6 L954.1 463.2 L954.6 464.8 L955.1 466.4 L955.6 467.9 L956.1 469.3 L956.6 470.7 L957.1 471.9 L957.6 473.0 L958.1 474.0 L958.6 474.9" stroke-dasharray="44.25 10.33 22.42 10.52"/>
<path d="M958.6 474.9 L959.1 475.6 L959.6 476.4 L960.1 477.1 L960.6 477.8 L961.1 478.4 L961.6 479.1 L962.1 479.6 L962.6 480.1 L963.1 480.5 L963.6 480.9 L964.1 481.1 L964.6 481.2 L965.1 481.2 L965.6 481.1 L966.1 481.0 L966.6 480.8 L967.1 480.5 L967.6 480.2 L968.1 479.8 L968.6 479.4 L969.1 478.9 L969.6 478.4 L970.1 477.9 L970.6 477.3 L971.1 476.8 L971.6 476.2 L972.1 475.6 L972.6 475.0 L973.1 474.3 L973.6 473.7 L974.1 473.0 L974.6 472.3 L975.1 471.4 L975.6 470.4 L976.1 469.4 L976.6 468.3 L977.1 467.1 L977.6 466.0 L978.1 464.7 L978.6 463.5 L979.1 462.3 L979.6 461.0 L980.1 459.8 L980.6 458.7 L981.1 457.5 L981.6 456.4 L982.1 455.3 L982.6 454.1 L983.1 452.9 L983.6 451.8 L984.1 450.6 L984.6 449.4 L985.1 448.2 L985.6 447.1 L986.1 445.9 L986.6 444.7 L987.1 443.6 L987.6 442.4 L988.1 441.3 L988.6 440.1 L989.1 439.0 L989.6 437.9 L990.1 436.9 L990.6 435.8 L991.1 434.7 L991.6 433.6 L992.1 432.6 L992.6 431.5 L993.1 430.5 L993.6 429.4 L994.1 428.4 L994.6 427.3 L995.1 426.3 L995.6 425.3 L996.1 424.3 L996.6 423.3 L997.1 422.4 L997.6 421.4 L998.1 420.5 L998.6 419.6 L999.1 418.7 L999.6 417.8 L1000.1 417.0 L1000.6 416.2 L1001.1 415.4 L1001.6 414.6 L1002.1 413.9 L1002.6 413.2 L1003.1 412.4" stroke-dasharray="45.06 10.51 22.83 10.71"/>
<path d="M1003.1 412.4 L1003.6 411.7 L1004.1 411.0 L1004.6 410.4 L1005.1 409.7 L1005.6 409.0 L1006.1 408.3 L1006.6 407.5 L1007.1 406.8 L1007.6 406.1 L1008.1 405.3 L1008.6 404.6 L1009.1 403.8 L1009.6 402.9 L1010.1 402.1 L1010.6 401.3 L1011.1 400.5 L1011.6 399.6 L1012.1 398.8 L1012.6 398.0 L1013.1 397.2 L1013.6 396.5 L1014.1 395.7 L1014.6 395.1 L1015.1 394.4 L1015.6 393.7 L1016.1 393.1 L1016.6 392.4 L1017.1 391.8 L1017.6 391.1 L1018.1 390.5 L1018.6 389.9 L1019.1 389.3 L1019.6 388.7 L1020.1 388.1 L1020.6 387.5 L1021.1 386.9 L1021.6 386.4 L1022.1 385.8 L1022.6 385.3 L1023.1 384.8 L1023.6 384.3 L1024.1 383.9 L1024.6 383.4 L1025.1 383.0 L1025.6 382.6 L1026.1 382.2 L1026.6 381.8 L1027.1 381.5 L1027.6 381.1 L1028.1 380.8 L1028.6 380.4 L1029.1 380.1 L1029.6 379.8 L1030.1 379.5 L1030.6 379.1 L1031.1 378.8 L1031.6 378.5 L1032.1 378.3 L1032.6 378.0 L1033.1 377.7 L1033.6 377.5 L1034.1 377.3 L1034.6 377.0 L1035.1 376.8 L1035.6 376.6 L1036.1 376.5 L1036.6 376.3 L1037.1 376.1 L1037.6 376.0 L1038.1 375.9 L1038.6 375.8 L1039.1 375.6 L1039.6 375.5 L1040.1 375.4 L1040.6 375.3 L1041.1 375.1 L1041.6 375.0 L1042.1 374.9 L1042.6 374.8 L1043.1 374.7 L1043.6 374.6 L1044.1 374.5 L1044.6 374.4 L1045.1 374.3 L1045.6 374.2 L1046.1 374.1 L1046.6 374.1 L1047.1 374.0 L1047.6 373.9 L1048.1 373.9 L1048.6 373.8 L1049.1 373.7 L1049.6 373.7 L1050.1 373.7 L1050.6 373.6 L1051.1 373.6 L1051.6 373.6 L1052.1 373.6 L1052.6 373.6 L1053.1 373.6 L1053.6 373.6 L1054.1 373.6 L1054.6 373.6 L1055.1 373.7 L1055.6 373.7 L1056.1 373.7 L1056.6 373.7 L1057.1 373.8 L1057.6 373.8 L1058.1 373.8 L1058.6 373.9 L1059.1 373.9 L1059.6 373.9 L1060.1 374.0 L1060.6 374.0 L1061.1 374.1 L1061.6 374.1 L1062.1 374.2 L1062.6 374.2 L1063.1 374.3 L1063.6 374.3 L1064.1 374.4 L1064.6 374.4 L1065.1 374.5 L1065.6 374.6 L1066.1 374.6 L1066.6 374.7 L1067.1 374.8 L1067.6 374.8 L1068.1 374.9 L1068.6 375.0 L1069.1 375.1 L1069.6 375.2 L1070.1 375.3 L1070.6 375.4 L1071.1 375.6 L1071.6 375.7 L1072.1 375.9 L1072.6 376.0 L1073.1 376.2" stroke-dasharray="44.15 10.30 22.37 10.50"/>
<path d="M1073.1 376.2 L1073.6 376.4 L1074.1 376.5 L1074.6 376.7 L1075.1 376.9 L1075.6 377.1 L1076.1 377.3 L1076.6 377.5 L1077.1 377.7 L1077.6 377.9 L1078.1 378.1 L1078.6 378.3 L1079.1 378.5 L1079.6 378.7 L1080.1 378.9 L1080.6 379.1 L1081.1 379.3 L1081.7 379.5 L1082.2 379.7 L1082.7 379.9 L1083.2 380.0 L1083.7 380.2 L1084.2 380.4 L1084.7 380.6 L1085.2 380.8 L1085.7 381.0 L1086.2 381.2 L1086.7 381.4 L1087.2 381.6 L1087.7 381.9 L1088.2 382.1 L1088.7 382.3 L1089.2 382.5 L1089.7 382.7 L1090.2 382.9 L1090.7 383.1 L1091.2 383.4 L1091.7 383.6 L1092.2 383.8 L1092.7 384.0 L1093.2 384.2 L1093.7 384.5 L1094.2 384.7 L1094.7 384.9 L1095.2 385.1 L1095.7 385.3 L1096.2 385.5 L1096.7 385.7 L1097.2 386.0 L1097.7 386.2 L1098.2 386.4 L1098.7 386.6 L1099.2 386.8 L1099.7 387.1 L1100.2 387.3 L1100.7 387.6 L1101.2 387.8 L1101.7 388.1 L1102.2 388.3 L1102.7 388.6 L1103.2 388.8 L1103.7 389.1 L1104.2 389.3 L1104.7 389.6 L1105.2 389.8 L1105.7 390.1 L1106.2 390.3 L1106.7 390.5 L1107.2 390.7 L1107.7 390.9 L1108.2 391.1 L1108.7 391.3 L1109.2 391.5 L1109.7 391.7 L1110.2 391.8 L1110.7 391.9 L1111.2 392.1 L1111.7 392.2 L1112.2 392.3 L1112.7 392.3 L1113.2 392.4 L1113.7 392.5 L1114.2 392.5 L1114.7 392.6 L1115.2 392.7 L1115.7 392.7 L1116.2 392.8 L1116.7 392.9 L1117.2 392.9 L1117.7 393.0 L1118.2 393.0 L1118.7 393.1 L1119.2 393.1 L1119.7 393.2 L1120.2 393.2 L1120.7 393.3 L1121.2 393.3 L1121.7 393.4 L1122.2 393.4 L1122.7 393.4 L1123.2 393.5 L1123.7 393.5 L1124.2 393.5 L1124.7 393.5 L1125.2 393.6 L1125.7 393.6 L1126.2 393.6 L1126.7 393.6 L1127.2 393.6 L1127.7 393.6 L1128.2 393.6 L1128.7 393.5 L1129.2 393.5 L1129.7 393.4 L1130.2 393.3 L1130.7 393.2 L1131.2 393.1 L1131.7 393.0 L1132.2 392.9 L1132.7 392.7 L1133.2 392.5 L1133.7 392.4 L1134.2 392.2 L1134.7 392.0 L1135.2 391.8 L1135.7 391.6 L1136.2 391.4 L1136.7 391.2 L1137.2 391.0 L1137.7 390.8 L1138.2 390.6 L1138.7 390.3 L1139.2 390.1 L1139.7 389.9 L1140.2 389.7 L1140.7 389.4 L1141.2 389.1 L1141.7 388.9 L1142.2 388.5 L1142.7 388.2 L1143.2 387.8 L1143.7 387.5 L1144.2 387.1 L1144.7 386.7 L1145.2 386.3 L1145.7 385.8 L1146.2 385.4 L1146.7 385.0 L1147.2 384.5 L1147.7 384.1 L1148.2 383.6 L1148.7 383.1 L1149.2 382.7 L1149.7 382.2 L1150.2 381.8 L1150.7 381.3 L1151.2 380.9 L1151.7 380.4 L1152.2 380.0 L1152.7 379.6 L1153.2 379.1 L1153.7 378.7 L1154.2 378.2" stroke-dasharray="45.10 10.52 22.85 10.72"/>
<path d="M1154.2 378.2 L1154.7 377.8 L1155.2 377.3 L1155.7 376.8 L1156.2 376.4 L1156.7 375.9 L1157.2 375.4 L1157.7 374.9 L1158.2 374.4 L1158.7 374.0 L1159.2 373.5 L1159.7 373.0 L1160.2 372.5 L1160.7 372.1 L1161.2 371.6 L1161.7 371.2 L1162.2 370.8 L1162.7 370.3 L1163.2 369.9 L1163.7 369.5 L1164.2 369.1 L1164.7 368.7 L1165.2 368.4 L1165.7 368.0 L1166.2 367.7 L1166.7 367.3 L1167.2 366.9 L1167.7 366.6 L1168.2 366.2 L1168.7 365.9 L1169.2 365.5 L1169.7 365.2 L1170.2 364.8 L1170.7 364.5 L1171.2 364.2 L1171.7 363.8 L1172.2 363.5 L1172.7 363.2 L1173.2 363.0 L1173.7 362.7 L1174.2 362.4 L1174.7 362.2 L1175.2 361.9 L1175.7 361.7 L1176.2 361.5 L1176.7 361.3 L1177.2 361.2 L1177.7 361.0 L1178.2 360.9 L1178.7 360.7 L1179.2 360.6 L1179.7 360.4 L1180.2 360.3 L1180.7 360.1 L1181.2 360.0 L1181.7 359.9 L1182.2 359.8 L1182.7 359.7 L1183.2 359.6 L1183.7 359.5 L1184.2 359.4 L1184.7 359.4 L1185.2 359.3 L1185.7 359.3 L1186.2 359.3 L1186.7 359.3 L1187.2 359.4 L1187.7 359.5 L1188.2 359.6 L1188.7 359.8 L1189.2 360.0 L1189.7 360.3 L1190.2 360.5 L1190.7 360.8 L1191.2 361.1 L1191.7 361.4 L1192.2 361.7 L1192.7 362.1 L1193.2 362.4 L1193.7 362.8 L1194.2 363.1 L1194.7 363.5 L1195.2 363.8 L1195.7 364.3 L1196.2 364.7 L1196.7 365.2 L1197.2 365.8 L1197.7 366.4 L1198.2 367.0 L1198.7 367.7 L1199.2 368.4 L1199.7 369.1 L1200.2 369.8 L1200.7 370.6 L1201.2 371.4 L1201.7 372.2 L1202.2 373.0 L1202.7 373.8 L1203.2 374.6 L1203.7 375.4 L1204.2 376.2 L1204.7 377.0 L1205.2 377.8 L1205.7 378.6 L1206.2 379.5 L1206.7 380.3 L1207.2 381.2 L1207.7 382.1 L1208.2 383.0 L1208.7 383.9 L1209.2 384.9 L1209.7 385.8 L1210.2 386.8 L1210.7 387.8 L1211.2 388.7 L1211.7 389.7 L1212.2 390.7 L1212.7 391.7 L1213.2 392.7 L1213.7 393.7 L1214.2 394.7 L1214.7 395.7 L1215.2 396.8 L1215.7 397.9" stroke-dasharray="44.60 10.41 22.60 10.61"/>
<path d="M1215.7 397.9 L1216.2 399.0 L1216.7 400.2 L1217.2 401.4 L1217.7 402.7 L1218.2 403.9 L1218.7 405.2 L1219.2 406.4 L1219.7 407.6 L1220.2 408.8 L1220.7 410.0 L1221.2 411.0 L1221.7 412.0 L1222.2 413.0 L1222.7 413.8 L1223.2 414.5 L1223.7 415.2 L1224.2 415.7 L1224.7 416.3 L1225.2 416.9 L1225.7 417.5 L1226.2 418.0 L1226.7 418.5 L1227.2 419.1 L1227.7 419.5 L1228.2 420.0 L1228.7 420.4 L1229.2 420.8 L1229.7 421.1 L1230.2 421.4 L1230.7 421.6 L1231.2 421.8 L1231.7 421.9 L1232.2 422.0 L1232.7 422.0 L1233.2 421.9 L1233.7 421.7 L1234.2 421.4 L1234.7 421.1 L1235.2 420.6 L1235.7 420.1 L1236.2 419.6 L1236.7 419.0 L1237.2 418.4 L1237.7 417.7 L1238.2 416.9 L1238.7 416.2 L1239.2 415.4 L1239.7 414.6 L1240.2 413.8 L1240.7 412.9 L1241.2 412.1 L1241.7 411.1 L1242.2 409.9 L1242.7 408.6 L1243.2 407.1 L1243.7 405.6 L1244.2 403.9 L1244.7 402.1 L1245.2 400.3 L1245.7 398.4 L1246.2 396.5 L1246.7 394.5 L1247.2 392.6 L1247.7 390.6 L1248.2 388.7 L1248.7 386.7 L1249.2 384.8 L1249.5 383.7 L1249.7 382.7 L1250.0 381.6 L1250.2 380.5 L1250.5 379.4 L1250.7 378.3 L1251.0 377.2 L1251.2 376.1 L1251.5 374.9 L1251.7 373.8" stroke-dasharray="42.43 9.90 21.50 10.09"/>
<path d="M1251.7 373.8 L1252.0 372.6 L1252.2 371.5 L1252.5 370.3 L1252.7 369.1 L1253.0 368.0 L1253.2 366.8 L1253.5 365.7 L1253.7 364.5 L1254.0 363.4 L1254.2 362.3 L1254.5 361.1 L1254.7 360.0 L1255.0 358.9 L1255.2 357.8 L1255.5 356.7 L1255.7 355.6 L1256.0 354.5 L1256.2 353.4 L1256.5 352.2 L1256.7 351.1 L1257.0 350.0 L1257.2 348.9 L1257.5 347.8 L1257.8 346.6 L1258.0 345.5 L1258.3 344.4 L1258.5 343.3 L1258.8 342.2 L1259.0 341.1 L1259.3 340.1 L1259.5 339.0 L1259.8 337.9 L1260.0 336.9 L1260.3 335.8 L1260.5 334.8 L1260.8 333.8 L1261.3 331.8 L1261.8 329.8 L1262.3 327.8 L1262.8 325.8 L1263.3 323.9 L1263.8 321.9 L1264.3 320.0 L1264.8 318.2 L1265.3 316.4 L1265.8 314.6 L1266.3 313.0 L1266.8 311.5 L1267.3 310.0 L1267.8 308.7 L1268.3 307.3 L1268.8 306.0 L1269.3 304.7 L1269.8 303.5 L1270.3 302.3 L1270.8 301.1 L1271.3 300.0 L1271.8 298.9 L1272.3 297.9 L1272.8 296.9 L1273.3 296.0 L1273.8 295.2 L1274.3 294.4 L1274.8 293.7 L1275.3 293.0 L1275.8 292.3 L1276.3 291.6 L1276.8 291.0 L1277.3 290.4 L1277.8 289.8 L1278.3 289.2 L1278.8 288.6 L1279.3 288.1 L1279.8 287.6" stroke-dasharray="46.29 10.80 23.45 11.01"/>
<path d="M1279.8 287.6 L1280.3 287.1 L1280.8 286.7 L1281.3 286.3 L1281.8 285.9 L1282.3 285.6 L1282.8 285.3 L1283.3 285.0 L1283.8 284.8 L1284.3 284.6 L1284.8 284.4 L1285.3 284.2 L1285.8 284.1 L1286.3 283.9 L1286.8 283.7 L1287.3 283.5 L1287.8 283.4 L1288.3 283.2 L1288.8 283.1 L1289.3 283.0 L1289.8 282.9 L1290.3 282.7 L1290.8 282.7 L1291.3 282.6 L1291.8 282.5 L1292.3 282.5 L1292.8 282.4 L1293.3 282.4 L1293.8 282.4 L1294.3 282.4 L1294.8 282.5 L1295.3 282.6 L1295.8 282.7 L1296.3 282.9 L1296.8 283.1 L1297.3 283.3 L1297.8 283.6 L1298.3 283.8 L1298.8 284.1 L1299.3 284.4 L1299.8 284.7 L1300.3 285.1 L1300.8 285.4 L1301.3 285.7 L1301.8 286.1 L1302.3 286.5 L1302.8 286.9 L1303.3 287.2 L1303.8 287.6 L1304.3 288.0 L1304.8 288.5 L1305.3 289.0 L1305.8 289.6 L1306.3 290.2 L1306.8 290.9 L1307.3 291.5 L1307.8 292.2 L1308.3 293.0 L1308.8 293.8 L1309.3 294.6 L1309.8 295.4 L1310.3 296.3 L1310.8 297.1 L1311.3 298.0 L1311.8 298.9 L1312.3 299.9 L1312.8 300.8 L1313.3 301.9 L1313.8 303.0 L1314.3 304.1 L1314.8 305.3 L1315.3 306.6 L1315.8 307.9 L1316.3 309.3 L1316.8 310.7 L1317.3 312.1 L1317.8 313.6 L1318.3 315.1 L1318.8 316.7 L1319.3 318.2 L1319.8 319.9 L1320.3 321.5 L1320.8 323.3 L1321.3 325.1 L1321.8 327.0 L1322.3 328.9 L1322.5 330.0 L1322.8 331.0 L1323.0 332.0 L1323.3 333.0 L1323.5 334.1 L1323.8 335.2 L1324.0 336.2 L1324.3 337.3 L1324.5 338.4 L1324.8 339.5 L1325.0 340.6 L1325.3 341.7 L1325.5 342.8 L1325.8 344.0 L1326.0 345.1 L1326.3 346.2" stroke-dasharray="45.64 10.65 23.12 10.85"/>
<path d="M1326.3 346.2 L1326.5 347.4 L1326.8 348.5 L1327.0 349.7 L1327.3 351.0 L1327.5 352.2 L1327.8 353.4 L1328.0 354.7 L1328.3 356.0 L1328.5 357.2 L1328.8 358.5 L1329.0 359.8 L1329.3 361.1 L1329.5 362.4 L1329.8 363.7 L1330.0 364.9 L1330.3 366.2 L1330.5 367.5 L1330.8 368.8 L1331.0 370.0 L1331.3 371.3 L1331.5 372.5 L1331.8 373.7 L1332.0 374.9 L1332.3 376.2 L1332.5 377.4 L1332.8 378.6 L1333.0 379.8 L1333.3 381.0 L1333.5 382.3 L1333.8 383.5 L1334.0 384.7 L1334.3 386.0 L1334.5 387.2 L1334.8 388.5 L1335.0 389.8 L1335.3 391.1 L1335.5 392.4 L1335.8 393.7 L1336.0 395.0 L1336.3 396.4 L1336.5 397.8 L1336.8 399.2 L1337.0 400.7 L1337.3 402.1 L1337.5 403.6 L1337.8 405.1 L1338.0 406.6 L1338.3 408.1 L1338.5 409.5 L1338.8 411.0 L1339.0 412.4 L1339.3 413.9 L1339.5 415.3 L1339.8 416.6 L1340.0 417.9 L1340.3 419.2 L1340.5 420.4 L1340.8 421.7 L1341.0 422.9 L1341.3 424.2 L1341.5 425.5 L1341.8 426.9 L1342.0 428.4 L1342.3 430.0 L1342.5 431.7 L1342.8 433.4" stroke-dasharray="44.88 10.47 22.74 10.67"/>
<path d="M1342.8 433.4 L1343.0 435.3 L1343.3 437.2 L1343.5 438.5 L1343.6 439.8 L1343.8 441.2 L1344.0 442.6 L1344.1 444.1 L1344.3 445.6 L1344.5 447.1 L1344.6 448.6 L1344.8 450.2 L1345.0 451.8 L1345.1 453.4 L1345.3 455.0" stroke-dasharray="45.00 10.50 22.80 10.70"/>
</g>
<path d="M139.3 807.5 L139.8 806.6 L140.3 805.7 L140.8 804.8 L141.3 803.9 L141.8 803.0 L142.2 802.1 L142.7 801.2 L143.2 800.3 L143.6 799.4 L144.1 798.5 L144.5 797.6 L145.0 796.7 L145.4 795.8 L145.9 794.8 L146.3 793.9 L146.8 793.0 L147.2 792.1 L147.7 791.2 L148.1 790.3 L148.6 789.3 L149.0 788.4 L149.5 787.5 L149.9 786.6 L150.4 785.7 L150.8 784.8 L151.3 783.9 L151.7 782.9 L152.2 782.0 L152.6 781.1 L153.1 780.2 L153.6 779.3 L154.1 778.4 L154.6 777.5 L155.1 776.6 L155.6 775.7 L156.1 774.9 L156.6 774.0 L157.1 773.1 L157.6 772.2 L158.2 771.4 L158.7 770.5 M175.0 727.4 L175.3 726.8 L175.6 726.1 L176.0 725.2 L176.5 724.3 L177.1 723.3 L177.7 722.3 L178.3 721.4 L179.1 720.4 L179.8 719.6 L180.6 718.8 L181.4 718.2 L182.3 717.7 L183.2 717.5 L184.1 717.4 L185.1 717.6 L186.0 717.9 L186.9 718.4 L187.8 719.0 L188.7 719.7 L189.5 720.4 L190.2 721.2 L190.9 722.0 L191.5 722.8 L192.0 723.7 L192.5 724.5 L193.0 725.4 L193.5 726.3 L193.9 727.2 L194.3 728.1 L194.6 729.1 L195.0 730.0 L195.4 731.0 L195.7 731.9 L196.0 732.8 L196.4 733.8 L196.8 734.7 L197.1 735.7 L197.5 736.6 L198.0 737.5 L198.4 738.4 L198.9 739.3 L199.4 740.2 L200.0 741.0 M223.7 742.4 L224.0 741.4 L224.2 740.4 L224.5 739.5 L224.7 738.5 L225.0 737.5 L225.3 736.5 L225.6 735.5 L225.8 734.6 L226.1 733.6 L226.4 732.6 L226.7 731.6 L227.0 730.6 L227.4 729.7 L227.7 728.7 L228.0 727.7 L228.4 726.8 L228.7 725.8 L229.1 724.8 L229.4 723.9 L229.8 722.9 L230.2 722.0 L230.6 721.0 L231.0 720.1 L231.4 719.2 L231.8 718.2 L232.3 717.3 L232.7 716.4 L233.2 715.5 L233.7 714.6 L234.2 713.7 L234.7 712.8 L235.2 712.0 L235.7 711.1 L236.3 710.2 L236.8 709.4 L237.4 708.5 L238.0 707.7 L238.6 706.9 L239.2 706.1 L239.9 705.3 L240.5 704.5 L241.2 703.7 M258.7 670.0 L259.0 670.9 L259.4 671.9 L259.7 672.8 L260.0 673.8 L260.4 674.7 L260.7 675.7 L261.0 676.6 L261.3 677.6 L261.6 678.5 L262.0 679.5 L262.3 680.4 L262.6 681.4 L262.9 682.3 L263.2 683.3 L263.5 684.2 L263.8 685.2 L264.1 686.1 L264.4 687.1 L264.7 688.0 L265.0 689.0 L265.3 690.0 L265.6 690.9 L265.9 691.9 L266.1 692.8 L266.4 693.8 L266.7 694.8 L267.0 695.7 L267.3 696.7 L267.5 697.6 L267.8 698.6 L268.1 699.6 L268.3 700.5 L268.6 701.5 L268.9 702.5 L269.1 703.4 L269.4 704.4 L269.6 705.4 L269.9 706.3 L270.1 707.3 L270.4 708.3 L270.6 709.3 L270.9 710.2 L271.1 711.2 M283.6 755.7 L285.1 763.2 L288.6 770.8 L293.6 773.6 L296.9 764.8 L300.0 760.3 L302.5 758.9 L306.0 758.0 L309.2 758.3 M314.0 811.1 L323.8 810.5 L326.0 805.5 L328.4 795.4 L330.2 788.0 L331.6 781.3 M355.0 757.7 L359.5 762.5 L365.1 767.2 L370.6 759.2 L374.7 751.1 L380.2 743.1 M401.0 705.0 L401.6 704.2 L402.1 703.4 L402.7 702.6 L403.2 701.7 L403.8 700.8 L404.3 700.0 L404.8 699.1 L405.4 698.2 L405.9 697.3 L406.4 696.5 L407.0 695.6 L407.5 694.7 L408.1 693.9 L408.7 693.0 L409.3 692.2 L409.9 691.4 L410.6 690.6 L411.3 689.9 L412.0 689.2 L412.7 688.5 L413.5 687.8 L414.4 687.2 L415.2 686.7 L416.2 686.2 L417.1 685.7 L418.0 685.4 L419.0 685.1 L420.0 685.0 L421.0 684.9 L422.0 685.0 L423.0 685.1 L424.0 685.4 L425.0 685.7 L426.0 686.1 L427.0 686.5 L427.9 687.0 L428.9 687.5 L429.8 688.0 L430.7 688.5 L431.6 689.1 L432.4 689.7 L433.3 690.2 L434.1 690.7 L434.8 691.2 M448.0 736.2 L448.2 737.2 L448.4 738.2 L448.6 739.2 L448.8 740.2 L449.0 741.2 L449.2 742.2 L449.4 743.2 L449.6 744.1 L449.9 745.1 L450.1 746.1 L450.3 747.1 L450.5 748.1 L450.7 749.1 L450.9 750.1 L451.1 751.1 L451.3 752.1 L451.5 753.1 L451.7 754.1 L451.9 755.1 L452.1 756.1 L452.3 757.1 L452.5 758.0 L452.7 759.0 L452.9 760.0 L453.1 761.0 L453.3 762.0 L453.5 763.0 L453.7 764.0 L453.9 765.0 L454.1 766.0 L454.4 767.0 L454.6 768.0 L454.8 769.0 L455.0 770.0 L455.2 771.0 L455.4 772.0 L455.6 772.9 L455.8 773.9 L456.0 774.9 L456.2 775.9 L456.4 776.9 L456.6 777.9 L456.8 778.9 L457.0 779.9 M466.5 822.4 L466.6 823.4 L466.8 824.4 L466.9 825.4 L467.1 826.4 L467.2 827.4 L467.3 828.4 L467.5 829.4 L467.6 830.4 L467.7 831.4 L467.9 832.4 L468.0 833.4 L468.1 834.4 L468.3 835.3 L468.4 836.3 L468.5 837.3 L468.7 838.3 L468.8 839.3 L468.9 840.3 L469.0 841.3 L469.2 842.3 L469.3 843.3 L469.4 844.3 L469.5 845.3 L469.7 846.3 L469.8 847.3 L469.9 848.3 L470.0 849.3 L470.1 850.3 L470.3 851.3 L470.4 852.3 L470.5 853.3 L470.6 854.3 L470.7 855.3 L470.8 856.3 L470.9 857.3 L471.0 858.3 L471.2 859.3 L471.3 860.3 L471.4 861.3 L471.5 862.3 L471.6 863.3 L471.7 864.3 L471.8 865.3 L471.9 866.3 L472.0 867.3 M476.2 911.0 L476.3 912.0 L476.4 913.0 L476.5 914.0 L476.6 915.0 L476.8 916.0 L476.9 917.0 L477.0 918.0 L477.1 919.0 L477.2 920.0 L477.3 921.0 L477.4 922.0 L477.6 923.0 L477.7 924.0 L477.8 925.0 L477.9 926.0 L478.0 927.0 L478.1 928.0 L478.2 929.0 L478.4 930.0 L478.5 931.0 L478.6 932.0 L478.7 933.0 L478.8 934.0 L478.9 935.0 L479.0 936.0 L479.2 937.0 L479.3 938.0 L479.4 939.0 L479.5 940.0 L479.6 941.0 L479.7 942.0 L479.9 943.0 L480.0 944.0 L480.1 945.0 L480.2 946.0 L480.3 947.0 L480.5 948.0 L480.6 949.0 L480.7 950.0 L480.8 951.0 L480.9 952.0 L481.0 953.0 L481.2 954.0 L481.3 955.0 L481.4 956.0 M555.8 956.0 L555.9 955.0 L556.1 954.0 L556.2 953.0 L556.3 952.0 L556.5 951.0 L556.6 950.0 L556.7 949.1 L556.9 948.1 L557.0 947.1 L557.2 946.1 L557.3 945.1 L557.4 944.1 L557.6 943.1 L557.7 942.1 L557.9 941.1 L558.0 940.1 L558.1 939.1 L558.3 938.1 L558.4 937.2 L558.6 936.2 L558.7 935.2 L558.8 934.2 L559.0 933.2 L559.1 932.2 L559.3 931.2 L559.4 930.2 L559.5 929.2 L559.7 928.2 L559.8 927.2 L560.0 926.3 L560.1 925.3 L560.3 924.3 L560.4 923.3 L560.5 922.3 L560.7 921.3 L560.8 920.3 L561.0 919.3 L561.1 918.3 L561.3 917.3 L561.4 916.3 L561.6 915.4 L561.7 914.4 L561.9 913.4 L562.0 912.4 L562.2 911.4 L562.3 910.4 M567.3 867.0 L567.4 866.0 L567.5 865.0 L567.7 864.0 L567.8 862.9 L567.9 861.9 L568.0 860.9 L568.2 859.9 L568.3 858.9 L568.4 857.9 L568.5 856.9 L568.7 855.8 L568.8 854.8 L568.9 853.8 L569.0 852.8 L569.2 851.8 L569.3 850.8 L569.4 849.8 L569.5 848.7 L569.7 847.7 L569.8 846.7 L569.9 845.7 L570.0 844.7 L570.2 843.7 L570.3 842.7 L570.4 841.7 L570.5 840.6 L570.7 839.6 L570.8 838.6 L570.9 837.6 L571.1 836.6 L571.2 835.6 L571.3 834.6 L571.5 833.5 L571.6 832.5 L571.7 831.5 L571.8 830.5 L572.0 829.5 L572.1 828.5 L572.2 827.5 L572.4 826.5 L572.5 825.4 L572.6 824.4 L572.8 823.4 L572.9 822.4 M580.4 778.7 L580.6 777.7 L580.9 776.7 L581.1 775.7 L581.3 774.8 L581.6 773.8 L581.8 772.8 L582.1 771.8 L582.3 770.8 L582.6 769.8 L582.8 768.9 L583.1 767.9 L583.3 766.9 L583.6 765.9 L583.9 765.0 L584.1 764.0 L584.4 763.0 L584.7 762.0 L585.0 761.1 L585.3 760.1 L585.6 759.1 L585.9 758.2 L586.2 757.2 L586.5 756.2 L586.8 755.3 L587.1 754.3 L587.4 753.3 L587.7 752.4 L588.0 751.4 L588.3 750.5 L588.7 749.5 L589.0 748.5 L589.3 747.6 L589.7 746.6 L590.0 745.7 L590.4 744.7 L590.7 743.8 L591.1 742.8 L591.4 741.9 L591.8 740.9 L592.1 740.0 L592.5 739.0 L592.9 738.1 L593.2 737.1 L593.6 736.2 M618.6 705.0 L619.0 704.1 L619.4 703.1 L619.9 702.2 L620.3 701.3 L620.8 700.4 L621.3 699.5 L621.8 698.7 L622.3 697.8 L622.8 696.9 L623.3 696.0 L623.8 695.2 L624.3 694.3 L624.8 693.4 L625.4 692.6 L625.9 691.7 L626.4 690.8 L627.0 690.0 L627.5 689.1 L628.0 688.3 L628.5 687.4 L629.0 686.5 L629.5 685.6 L630.0 684.8 L630.5 683.9 L631.0 683.0 L631.5 682.1 L632.0 681.2 L632.6 680.4 L633.2 679.6 L633.8 678.8 L634.5 678.0 L635.2 677.2 L635.9 676.6 L636.8 676.0 L637.6 675.4 L638.6 675.0 L639.5 674.7 L640.5 674.5 L641.5 674.4 L642.6 674.5 L643.6 674.6 L644.6 674.8 L645.5 675.2 L646.5 675.6 L647.3 676.2 M658.6 722.4 L658.9 723.4 L659.2 724.3 L659.5 725.3 L659.8 726.2 L660.1 727.2 L660.5 728.1 L660.8 729.1 L661.1 730.0 L661.4 731.0 L661.8 731.9 L662.1 732.9 L662.4 733.8 L662.8 734.8 L663.2 735.7 L663.5 736.7 L663.9 737.6 L664.3 738.5 L664.7 739.5 L665.1 740.4 L665.5 741.3 L665.9 742.2 L666.4 743.1 L666.8 744.0 L667.3 744.9 L667.8 745.8 L668.3 746.7 L668.8 747.5 L669.3 748.4 L669.8 749.3 L670.3 750.1 L670.9 751.0 L671.4 751.8 L672.0 752.7 L672.5 753.5 L673.1 754.4 L673.6 755.2 L674.1 756.1 L674.7 756.9 L675.2 757.8 L675.8 758.6 L676.3 759.5 L676.8 760.3 L677.3 761.2 M693.6 803.6 L704.6 824.5 L717.3 812.4 M735.5 791.0 L735.6 790.0 L735.8 789.0 L735.9 788.0 L736.0 787.0 L736.2 785.9 L736.3 784.9 L736.4 783.9 L736.6 782.9 L736.7 781.9 L736.8 780.9 L737.0 779.9 L737.1 778.8 L737.2 777.8 L737.3 776.8 L737.5 775.8 L737.6 774.8 L737.7 773.8 L737.8 772.8 L738.0 771.8 L738.1 770.7 L738.2 769.7 L738.3 768.7 L738.5 767.7 L738.6 766.7 L738.7 765.7 L738.8 764.7 L738.9 763.6 L739.0 762.6 L739.2 761.6 L739.3 760.6 L739.4 759.6 L739.5 758.6 L739.6 757.6 L739.7 756.5 L739.8 755.5 L739.9 754.5 L740.1 753.5 L740.2 752.5 L740.3 751.5 L740.4 750.4 L740.5 749.4 L740.6 748.4 L740.7 747.4 M747.0 703.0 L747.0 702.0 L747.1 700.9 L747.1 699.9 L747.2 698.8 L747.3 697.8 L747.4 696.8 L747.5 695.8 L747.6 694.7 L747.7 693.7 L747.8 692.7 L748.0 691.7 L748.1 690.7 L748.3 689.7 L748.5 688.7 L748.7 687.7 L748.9 686.7 L749.1 685.7 L749.3 684.7 L749.5 683.7 L749.7 682.7 L750.0 681.7 L750.3 680.7 L750.5 679.8 L750.8 678.8 L751.1 677.8 L751.4 676.9 L751.7 675.9 L752.0 674.9 L752.4 674.0 L752.7 673.0 L753.1 672.1 L753.4 671.1 L753.8 670.2 L754.2 669.2 L754.6 668.3 L755.0 667.4 L755.4 666.4 L755.9 665.5 L756.3 664.6 L756.8 663.7 L757.2 662.7 L757.7 661.8 L758.2 660.9 L758.7 660.0 M781.2 688.7 L781.5 689.6 L781.8 690.6 L782.1 691.5 L782.4 692.5 L782.6 693.5 L782.9 694.5 L783.2 695.5 L783.4 696.4 L783.6 697.4 L783.9 698.4 L784.1 699.4 L784.4 700.4 L784.6 701.4 L784.9 702.4 L785.1 703.4 L785.4 704.4 L785.7 705.4 L786.0 706.4 L786.4 707.3 L786.7 708.3 L787.1 709.2 L787.5 710.1 L787.9 711.0 L788.4 711.9 L788.9 712.8 L789.4 713.7 L790.0 714.5 L790.5 715.3 L791.1 716.2 L791.8 717.0 L792.4 717.7 L793.1 718.5 L793.8 719.3 L794.5 720.0 L795.2 720.7 L796.0 721.5 L796.7 722.2 L797.4 722.9 L798.2 723.5 L798.9 724.2 L799.7 724.9 L800.5 725.5 L801.2 726.2 M821.2 766.2 L821.5 767.2 L821.7 768.2 L822.0 769.1 L822.3 770.1 L822.5 771.1 L822.8 772.1 L823.0 773.1 L823.3 774.0 L823.5 775.0 L823.8 776.0 L824.0 777.0 L824.3 778.0 L824.5 778.9 L824.8 779.9 L825.0 780.9 L825.3 781.9 L825.5 782.9 L825.7 783.9 L826.0 784.8 L826.2 785.8 L826.5 786.8 L826.7 787.8 L826.9 788.8 L827.1 789.8 L827.4 790.8 L827.6 791.8 L827.8 792.7 L828.1 793.7 L828.3 794.7 L828.5 795.7 L828.7 796.7 L828.9 797.7 L829.1 798.7 L829.4 799.7 L829.6 800.7 L829.8 801.6 L830.0 802.6 L830.2 803.6 L830.4 804.6 L830.6 805.6 L830.8 806.6 L831.0 807.6 L831.2 808.6 M837.8 852.5 L837.9 853.5 L838.1 854.5 L838.2 855.5 L838.4 856.5 L838.5 857.5 L838.6 858.5 L838.8 859.5 L838.9 860.5 L839.1 861.5 L839.2 862.5 L839.4 863.5 L839.5 864.5 L839.7 865.5 L839.8 866.5 L840.0 867.5 L840.1 868.5 L840.3 869.5 L840.5 870.5 L840.6 871.5 L840.8 872.5 L841.0 873.5 L841.1 874.5 L841.3 875.5 L841.5 876.5 L841.6 877.5 L841.8 878.5 L842.0 879.5 L842.1 880.5 L842.3 881.5 L842.5 882.5 L842.7 883.5 L842.8 884.5 L843.0 885.5 L843.2 886.5 L843.4 887.5 L843.6 888.5 L843.8 889.5 L844.0 890.4 L844.1 891.4 L844.3 892.4 L844.5 893.4 L844.7 894.4 L844.9 895.4 L845.1 896.4 L845.3 897.4 M854.8 939.9 L860.2 956.0 M893.3 956.0 L893.5 955.0 L893.7 954.0 L893.9 953.0 L894.1 952.0 L894.2 951.1 L894.4 950.1 L894.6 949.1 L894.8 948.1 L895.1 947.1 L895.3 946.1 L895.5 945.1 L895.7 944.2 L895.9 943.2 L896.1 942.2 L896.4 941.2 L896.6 940.2 L896.8 939.3 L897.0 938.3 L897.3 937.3 L897.5 936.3 L897.8 935.4 L898.0 934.4 L898.2 933.4 L898.5 932.4 L898.7 931.5 L899.0 930.5 L899.3 929.5 L899.5 928.5 L899.8 927.6 L900.0 926.6 L900.3 925.6 L900.6 924.7 L900.9 923.7 L901.1 922.7 L901.4 921.8 L901.7 920.8 L902.0 919.8 L902.3 918.9 L902.6 917.9 L902.9 917.0 L903.2 916.0 L903.5 915.0 L903.8 914.1 L904.1 913.1 L904.4 912.2 L904.7 911.2 M914.7 867.5 L914.9 866.5 L915.0 865.5 L915.2 864.5 L915.3 863.5 L915.5 862.6 L915.6 861.6 L915.8 860.6 L915.9 859.6 L916.1 858.6 L916.2 857.6 L916.4 856.6 L916.5 855.6 L916.7 854.6 L916.8 853.6 L917.0 852.6 L917.1 851.7 L917.3 850.7 L917.4 849.7 L917.6 848.7 L917.7 847.7 L917.9 846.7 L918.0 845.7 L918.2 844.7 L918.3 843.7 L918.5 842.7 L918.6 841.8 L918.8 840.8 L918.9 839.8 L919.1 838.8 L919.2 837.8 L919.4 836.8 L919.5 835.8 L919.7 834.8 L919.8 833.8 L920.0 832.8 L920.1 831.8 L920.2 830.8 L920.4 829.9 L920.5 828.9 L920.7 827.9 L920.8 826.9 L921.0 825.9 L921.1 824.9 M928.6 779.9 L928.8 778.9 L928.9 777.9 L929.1 776.9 L929.3 775.9 L929.4 774.9 L929.6 773.9 L929.8 772.9 L929.9 771.9 L930.1 770.9 L930.3 769.9 L930.4 768.9 L930.6 767.9 L930.8 766.9 L930.9 765.9 L931.1 764.9 L931.3 763.9 L931.5 762.9 L931.6 761.9 L931.8 760.9 L932.0 759.9 L932.1 758.9 L932.3 757.9 L932.5 756.9 L932.7 755.9 L932.8 754.9 L933.0 753.9 L933.2 752.9 L933.4 751.9 L933.6 750.9 L933.7 749.9 L933.9 748.9 L934.1 747.9 L934.3 746.9 L934.5 745.9 L934.6 744.9 L934.8 743.9 L935.0 742.9 L935.2 741.9 L935.4 740.9 L935.5 739.9 L935.7 738.9 L935.9 737.9 L936.1 736.9 M952.3 696.2 L952.8 695.3 L953.3 694.4 L953.8 693.5 L954.3 692.7 L954.8 691.8 L955.3 690.9 L955.8 690.0 L956.2 689.1 L956.7 688.2 L957.2 687.3 L957.7 686.4 L958.2 685.5 L958.6 684.6 L959.1 683.7 L959.6 682.8 L960.1 681.9 L960.5 681.0 L961.0 680.1 L961.4 679.2 L961.9 678.3 L962.4 677.4 L962.8 676.5 L963.3 675.6 L963.7 674.6 L964.2 673.7 L964.6 672.8 L965.1 671.9 L965.5 671.0 L966.0 670.1 L966.4 669.2 L966.8 668.2 L967.3 667.3 L967.7 666.4 L968.1 665.5 L968.5 664.6 L969.0 663.6 L969.4 662.7 L969.8 661.8 L970.2 660.9 L970.7 659.9 L971.1 659.0 L971.5 658.1 L971.9 657.1 L972.3 656.2 M1003.5 656.2 L1004.6 656.5 L1005.6 656.8 L1006.6 657.1 L1007.6 657.5 L1008.6 658.0 L1009.5 658.5 L1010.3 659.0 L1011.2 659.5 L1012.0 660.1 L1012.8 660.7 L1013.6 661.3 L1014.3 662.0 L1015.0 662.7 L1015.7 663.4 L1016.4 664.2 L1017.0 664.9 L1017.6 665.7 L1018.2 666.5 L1018.8 667.4 L1019.4 668.2 L1020.0 669.0 L1020.5 669.9 L1021.1 670.8 L1021.6 671.7 L1022.1 672.6 L1022.6 673.5 L1023.2 674.4 L1023.7 675.3 L1024.2 676.2 L1024.7 677.1 L1025.2 678.0 L1025.7 678.9 L1026.2 679.8 L1026.7 680.7 L1027.2 681.6 L1027.7 682.5 L1028.2 683.4 L1028.8 684.2 L1029.3 685.1 L1029.9 685.9 L1030.4 686.7 L1031.0 687.5 M1067.5 696.4 L1068.3 695.8 L1069.1 695.2 L1070.0 694.7 L1070.8 694.1 L1071.7 693.6 L1072.5 693.0 L1073.4 692.5 L1074.3 692.0 L1075.2 691.6 L1076.1 691.1 L1077.1 690.7 L1078.0 690.3 L1078.9 690.0 L1079.9 689.6 L1080.9 689.3 L1081.8 689.1 L1082.8 688.8 L1083.8 688.6 L1084.8 688.4 L1085.8 688.2 L1086.8 688.0 L1087.8 687.8 L1088.8 687.6 L1089.8 687.5 L1090.8 687.3 L1091.8 687.1 L1092.8 687.0 L1093.8 686.9 L1094.8 686.9 L1095.8 686.9 L1096.8 686.9 L1097.8 687.1 L1098.8 687.3 L1099.8 687.6 L1100.8 687.9 L1101.7 688.3 L1102.6 688.7 L1103.5 689.2 L1104.4 689.8 L1105.2 690.4 L1106.0 691.0 L1106.7 691.7 L1107.4 692.4 L1108.1 693.2 L1108.7 694.0 M1123.7 733.7 L1123.9 734.7 L1124.2 735.7 L1124.4 736.7 L1124.7 737.7 L1124.9 738.6 L1125.2 739.6 L1125.4 740.6 L1125.6 741.6 L1125.9 742.6 L1126.1 743.6 L1126.4 744.6 L1126.6 745.6 L1126.8 746.6 L1127.1 747.6 L1127.3 748.6 L1127.5 749.5 L1127.8 750.5 L1128.0 751.5 L1128.2 752.5 L1128.5 753.5 L1128.7 754.5 L1128.9 755.5 L1129.1 756.5 L1129.4 757.5 L1129.6 758.5 L1129.8 759.5 L1130.0 760.5 L1130.3 761.5 L1130.5 762.5 L1130.7 763.5 L1130.9 764.4 L1131.1 765.4 L1131.4 766.4 L1131.6 767.4 L1131.8 768.4 L1132.0 769.4 L1132.2 770.4 L1132.4 771.4 L1132.7 772.4 L1132.9 773.4 L1133.1 774.4 L1133.3 775.4 L1133.5 776.4 L1133.7 777.4 M1142.4 821.1 L1142.5 822.1 L1142.6 823.1 L1142.8 824.1 L1142.9 825.2 L1143.0 826.2 L1143.1 827.2 L1143.3 828.2 L1143.4 829.2 L1143.5 830.2 L1143.6 831.3 L1143.7 832.3 L1143.9 833.3 L1144.0 834.3 L1144.1 835.3 L1144.2 836.3 L1144.3 837.4 L1144.5 838.4 L1144.6 839.4 L1144.7 840.4 L1144.8 841.4 L1144.9 842.4 L1145.1 843.4 L1145.2 844.5 L1145.3 845.5 L1145.4 846.5 L1145.5 847.5 L1145.6 848.5 L1145.7 849.5 L1145.9 850.6 L1146.0 851.6 L1146.1 852.6 L1146.2 853.6 L1146.3 854.6 L1146.4 855.6 L1146.5 856.7 L1146.6 857.7 L1146.7 858.7 L1146.9 859.7 L1147.0 860.7 L1147.1 861.7 L1147.2 862.8 L1147.3 863.8 L1147.4 864.8 M1151.8 909.9 L1151.9 910.9 L1152.0 911.9 L1152.1 912.9 L1152.2 913.9 L1152.3 914.9 L1152.4 915.9 L1152.5 916.9 L1152.6 917.9 L1152.7 918.9 L1152.8 919.9 L1152.9 920.9 L1153.0 921.9 L1153.1 922.9 L1153.2 923.9 L1153.3 924.9 L1153.4 925.9 L1153.5 926.9 L1153.6 927.9 L1153.7 928.9 L1153.8 929.9 L1153.9 930.9 L1154.0 931.9 L1154.1 932.9 L1154.2 933.9 L1154.3 934.9 L1154.4 935.9 L1154.5 937.0 L1154.6 938.0 L1154.7 939.0 L1154.8 940.0 L1154.8 941.0 L1154.9 942.0 L1155.0 943.0 L1155.1 944.0 L1155.2 945.0 L1155.3 946.0 L1155.4 947.0 L1155.5 948.0 L1155.6 949.0 L1155.7 950.0 L1155.8 951.0 L1155.8 952.0 L1155.9 953.0 L1156.0 954.0 L1156.1 955.0 L1156.2 956.0 M1170.4 956.0 L1170.5 955.0 L1170.6 954.0 L1170.7 953.0 L1170.8 951.9 L1170.8 950.9 L1170.9 949.9 L1171.0 948.9 L1171.1 947.9 L1171.2 946.9 L1171.3 945.9 L1171.4 944.8 L1171.5 943.8 L1171.6 942.8 L1171.7 941.8 L1171.8 940.8 L1171.9 939.8 L1172.0 938.8 L1172.0 937.7 L1172.1 936.7 L1172.2 935.7 L1172.3 934.7 L1172.4 933.7 L1172.5 932.7 L1172.6 931.7 L1172.7 930.7 L1172.8 929.6 L1172.9 928.6 L1173.0 927.6 L1173.1 926.6 L1173.2 925.6 L1173.3 924.6 L1173.4 923.6 L1173.5 922.6 L1173.6 921.5 L1173.7 920.5 L1173.8 919.5 L1174.0 918.5 L1174.1 917.5 L1174.2 916.5 L1174.3 915.5 L1174.4 914.4 L1174.5 913.4 L1174.6 912.4 L1174.7 911.4 L1174.8 910.4 M1178.9 866.1 L1179.0 865.1 L1179.1 864.1 L1179.1 863.0 L1179.2 862.0 L1179.3 861.0 L1179.4 860.0 L1179.5 859.0 L1179.6 858.0 L1179.7 856.9 L1179.7 855.9 L1179.8 854.9 L1179.9 853.9 L1180.0 852.9 L1180.1 851.9 L1180.2 850.8 L1180.3 849.8 L1180.4 848.8 L1180.5 847.8 L1180.5 846.8 L1180.6 845.8 L1180.7 844.7 L1180.8 843.7 L1180.9 842.7 L1181.0 841.7 L1181.1 840.7 L1181.2 839.7 L1181.3 838.7 L1181.4 837.6 L1181.5 836.6 L1181.6 835.6 L1181.7 834.6 L1181.8 833.6 L1181.9 832.6 L1182.0 831.5 L1182.1 830.5 L1182.2 829.5 L1182.3 828.5 L1182.4 827.5 L1182.5 826.5 L1182.6 825.4 L1182.7 824.4 L1182.8 823.4 L1182.9 822.4 M1188.6 777.9 L1188.7 776.9 L1188.9 775.9 L1189.0 774.9 L1189.1 773.8 L1189.3 772.8 L1189.4 771.8 L1189.5 770.8 L1189.7 769.8 L1189.8 768.8 L1189.9 767.8 L1190.1 766.8 L1190.2 765.7 L1190.4 764.7 L1190.5 763.7 L1190.6 762.7 L1190.8 761.7 L1190.9 760.7 L1191.1 759.7 L1191.2 758.7 L1191.4 757.6 L1191.5 756.6 L1191.7 755.6 L1191.8 754.6 L1192.0 753.6 L1192.1 752.6 L1192.2 751.6 L1192.4 750.6 L1192.5 749.6 L1192.7 748.5 L1192.9 747.5 L1193.0 746.5 L1193.2 745.5 L1193.3 744.5 L1193.5 743.5 L1193.6 742.5 L1193.8 741.5 L1193.9 740.5 L1194.1 739.4 L1194.3 738.4 L1194.4 737.4 L1194.6 736.4 L1194.7 735.4 L1194.9 734.4 M1204.9 690.0 L1205.1 689.0 L1205.3 688.0 L1205.6 687.0 L1205.9 686.0 L1206.2 685.0 L1206.5 684.1 L1206.8 683.1 L1207.1 682.1 L1207.5 681.2 L1207.9 680.2 L1208.3 679.3 L1208.7 678.3 L1209.1 677.4 L1209.6 676.5 L1210.1 675.6 L1210.6 674.7 L1211.1 673.8 L1211.6 672.9 L1212.1 672.0 L1212.7 671.2 L1213.2 670.3 L1213.8 669.5 L1214.4 668.6 L1215.0 667.8 L1215.7 667.0 L1216.3 666.2 L1217.0 665.4 L1217.7 664.7 L1218.4 663.9 L1219.1 663.2 L1219.8 662.4 L1220.5 661.7 L1221.3 661.0 L1222.0 660.4 L1222.8 659.7 L1223.6 659.0 L1224.4 658.4 L1225.2 657.8 L1226.0 657.2 L1226.9 656.6 L1227.7 656.0 L1228.6 655.5 M1252.3 697.5 L1252.7 698.4 L1253.1 699.4 L1253.5 700.3 L1253.9 701.2 L1254.3 702.2 L1254.7 703.1 L1255.1 704.0 L1255.4 705.0 L1255.8 705.9 L1256.2 706.9 L1256.5 707.8 L1256.9 708.7 L1257.2 709.7 L1257.5 710.6 L1257.9 711.6 L1258.2 712.6 L1258.5 713.5 L1258.9 714.5 L1259.2 715.4 L1259.5 716.4 L1259.8 717.3 L1260.1 718.3 L1260.4 719.3 L1260.7 720.2 L1260.9 721.2 L1261.2 722.2 L1261.5 723.1 L1261.8 724.1 L1262.0 725.1 L1262.3 726.1 L1262.5 727.0 L1262.8 728.0 L1263.0 729.0 L1263.2 730.0 L1263.5 731.0 L1263.7 732.0 L1263.9 732.9 L1264.1 733.9 L1264.3 734.9 L1264.5 735.9 L1264.7 736.9 L1264.9 737.9 L1265.1 738.9 L1265.3 739.9 M1283.6 731.2 L1283.8 730.2 L1284.0 729.2 L1284.2 728.2 L1284.5 727.2 L1284.7 726.3 L1284.9 725.3 L1285.1 724.3 L1285.3 723.3 L1285.5 722.3 L1285.7 721.3 L1286.0 720.3 L1286.2 719.3 L1286.4 718.4 L1286.6 717.4 L1286.8 716.4 L1287.0 715.4 L1287.2 714.4 L1287.5 713.4 L1287.7 712.4 L1287.9 711.4 L1288.1 710.4 L1288.3 709.5 L1288.5 708.5 L1288.7 707.5 L1289.0 706.5 L1289.2 705.5 L1289.4 704.5 L1289.6 703.5 L1289.8 702.5 L1290.0 701.6 L1290.2 700.6 L1290.5 699.6 L1290.7 698.6 L1290.9 697.6 L1291.1 696.6 L1291.3 695.6 L1291.5 694.6 L1291.7 693.6 L1291.9 692.7 L1292.2 691.7 L1292.4 690.7 L1292.6 689.7 L1292.8 688.7 M1301.0 646.1 L1301.3 645.1 L1301.5 644.2 L1301.8 643.2 L1302.1 642.2 L1302.3 641.2 L1302.6 640.3 L1302.9 639.3 L1303.2 638.3 L1303.4 637.3 L1303.7 636.4 L1304.0 635.4 L1304.2 634.4 L1304.5 633.4 L1304.8 632.5 L1305.1 631.5 L1305.3 630.5 L1305.6 629.6 L1305.9 628.6 L1306.2 627.6 L1306.4 626.6 L1306.7 625.7 L1307.0 624.7 L1307.3 623.7 L1307.6 622.8 L1307.8 621.8 L1308.1 620.8 L1308.4 619.8 L1308.7 618.9 L1309.0 617.9 L1309.2 616.9 L1309.5 616.0 L1309.8 615.0 L1310.1 614.0 L1310.4 613.1 L1310.6 612.1 L1310.9 611.1 L1311.2 610.2 L1311.5 609.2 L1311.8 608.2 L1312.1 607.2 L1312.4 606.3 L1312.6 605.3 L1312.9 604.3 L1313.2 603.4 L1313.5 602.4 M1324.8 559.9 L1325.0 558.9 L1325.3 558.0 L1325.5 557.0 L1325.8 556.0 L1326.0 555.0 L1326.3 554.1 L1326.5 553.1 L1326.8 552.1 L1327.0 551.2 L1327.3 550.2 L1327.5 549.2 L1327.8 548.2 L1328.0 547.3 L1328.3 546.3 L1328.5 545.3 L1328.8 544.4 L1329.0 543.4 L1329.3 542.4 L1329.5 541.4 L1329.8 540.5 L1330.0 539.5 L1330.3 538.5 L1330.5 537.6 L1330.8 536.6 L1331.0 535.6 L1331.3 534.6 L1331.5 533.7 L1331.8 532.7 L1332.0 531.7 L1332.3 530.8 L1332.5 529.8 L1332.8 528.8 L1333.0 527.9 L1333.3 526.9 L1333.5 525.9 L1333.8 524.9 L1334.0 524.0 L1334.3 523.0 L1334.5 522.0 L1334.8 521.1 L1335.0 520.1 L1335.3 519.1 L1335.5 518.1 L1335.8 517.2 L1336.0 516.2" stroke="#00f" stroke-width="11.5"/>
</g>
<text transform="translate(123.4,31.6) scale(1,1.040)" font-size="44" text-anchor="end" fill="#2f2f2f">0</text>
<text transform="translate(122.2,165.7) scale(1,1.040)" font-size="44" text-anchor="end" fill="#2f2f2f">-5</text>
<text transform="translate(122.2,300.4) scale(1,1.040)" font-size="44" text-anchor="end" fill="#2f2f2f">-10</text>
<text transform="translate(122.2,434.9) scale(1,1.040)" font-size="44" text-anchor="end" fill="#2f2f2f">-15</text>
<text transform="translate(122.2,569.3) scale(1,1.040)" font-size="44" text-anchor="end" fill="#2f2f2f">-20</text>
<text transform="translate(122.2,703.7) scale(1,1.040)" font-size="44" text-anchor="end" fill="#2f2f2f">-25</text>
<text transform="translate(122.2,838.1) scale(1,1.040)" font-size="44" text-anchor="end" fill="#2f2f2f">-30</text>
<text transform="translate(122.2,972.7) scale(1,1.040)" font-size="44" text-anchor="end" fill="#2f2f2f">-35</text>
<text transform="translate(210.5,1017.8) scale(1,1.040)" font-size="44" text-anchor="middle" fill="#2f2f2f">3.8</text>
<text transform="translate(352.2,1017.8) scale(1,1.040)" font-size="44" text-anchor="middle" fill="#2f2f2f">4</text>
<text transform="translate(494.0,1017.8) scale(1,1.040)" font-size="44" text-anchor="middle" fill="#2f2f2f">4.2</text>
<text transform="translate(635.8,1017.8) scale(1,1.040)" font-size="44" text-anchor="middle" fill="#2f2f2f">4.4</text>
<text transform="translate(777.6,1017.8) scale(1,1.040)" font-size="44" text-anchor="middle" fill="#2f2f2f">4.6</text>
<text transform="translate(919.4,1017.8) scale(1,1.040)" font-size="44" text-anchor="middle" fill="#2f2f2f">4.8</text>
<text transform="translate(1061.1,1017.8) scale(1,1.040)" font-size="44" text-anchor="middle" fill="#2f2f2f">5</text>
<text transform="translate(1202.9,1017.8) scale(1,1.040)" font-size="44" text-anchor="middle" fill="#2f2f2f">5.2</text>
<text transform="translate(1343.7,1017.8) scale(1,1.040)" font-size="44" text-anchor="middle" fill="#2f2f2f">5.4</text>
<text transform="translate(743.4,1083.0) scale(1,1.020)" font-size="49" text-anchor="middle" fill="#2f2f2f">Frequency(GHz)</text>
<text transform="translate(35.0,485.3) rotate(-90) scale(1,1.020)" font-size="49" text-anchor="middle" fill="#2f2f2f">(dB)</text>
<rect x="995.4" y="10.9" width="346.9" height="172" fill="#fff" stroke="#2a2a2a" stroke-width="2.2"/>
<path d="M1005.8 42.7 H1117.7" stroke="#000" stroke-width="11.5"/>
<path d="M1005.8 97 H1117.7" stroke="#f00" stroke-width="11.5" stroke-dasharray="45 10.5 22.8 10.7"/>
<path d="M1005.8 151.4 H1117.7" stroke="#00f" stroke-width="11.5" stroke-dasharray="45 44.3"/>
<text transform="translate(1125.8,57.5) scale(1,1.020)" font-size="40" fill="#000">Sum</text>
<text transform="translate(1125.8,112.2) scale(1,1.020)" font-size="40" fill="#000">Diff</text>
<text transform="translate(1125.8,166.0) scale(1,1.020)" font-size="40" fill="#000">Sum &amp; Diff</text>
</svg></body></html>
